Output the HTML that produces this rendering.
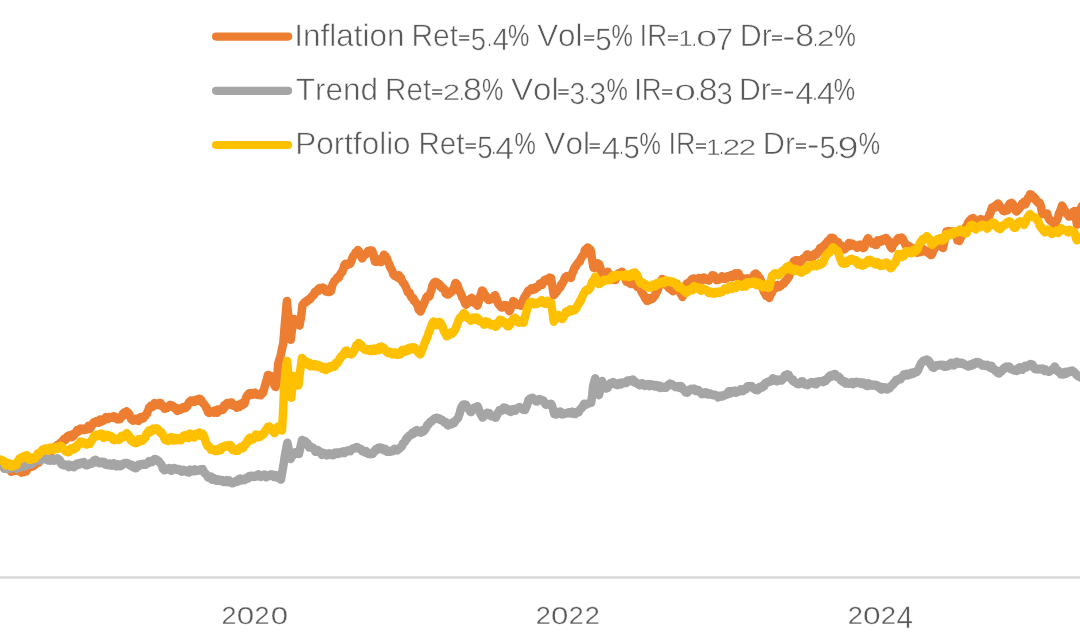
<!DOCTYPE html>
<html lang="en"><head><meta charset="utf-8"><title>Chart</title>
<style>
html,body{margin:0;padding:0;background:#fff;}
body{width:1080px;height:635px;overflow:hidden;position:relative;font-family:"Liberation Sans",sans-serif;}
svg{position:absolute;left:0;top:0;display:block;}
text{font-family:"Liberation Sans",sans-serif;fill:#595959;stroke:#fff;stroke-width:0.6px;font-kerning:none;text-rendering:geometricPrecision;font-variant-ligatures:none;white-space:pre;}
</style></head><body>
<svg width="1080" height="635" viewBox="0 0 1080 635">
<rect width="1080" height="635" fill="#fff"/>
<line x1="0" y1="577.5" x2="1080" y2="577.5" stroke="#d8d8d8" stroke-width="2.6"/>
<polyline points="-2.0,464.0 -1.4,463.5 -0.8,463.5 0.0,464.0 0.4,465.0 1.0,463.4 1.6,466.1 2.2,465.4 2.8,466.3 3.4,466.3 4.0,468.4 4.6,465.9 5.2,466.3 6.0,467.2 6.4,468.8 7.0,467.4 7.6,467.8 8.2,467.5 8.8,468.3 9.4,469.6 10.0,468.5 10.6,470.6 11.2,471.7 11.8,471.6 12.4,471.4 13.0,471.0 13.6,471.0 14.2,470.1 14.8,469.8 15.4,470.8 16.0,469.8 16.6,469.6 17.2,469.2 18.0,469.5 18.4,468.8 19.0,469.3 19.6,468.8 20.2,469.7 20.8,472.1 21.4,472.5 22.0,471.8 22.7,470.6 23.2,469.7 23.8,472.1 24.4,471.6 25.0,470.4 25.6,470.6 26.0,471.5 26.8,470.2 27.4,469.0 28.0,467.2 28.6,466.8 29.2,465.3 29.8,465.1 30.4,465.0 31.0,465.9 31.6,466.7 32.0,466.5 32.8,466.3 33.4,466.1 34.0,464.3 34.6,465.1 35.2,464.6 35.8,463.3 36.4,463.2 37.0,462.3 37.6,462.7 38.0,462.2 38.8,462.4 39.4,460.6 40.0,458.0 40.6,457.3 41.2,457.2 41.8,457.9 42.4,457.4 43.0,454.4 43.6,454.1 44.0,455.0 44.8,454.7 45.4,455.0 46.0,453.9 46.6,453.1 47.2,452.8 47.8,452.8 48.4,452.3 49.0,451.8 49.6,450.3 50.0,450.6 50.8,450.2 51.4,450.9 52.0,451.0 52.6,450.2 53.2,449.0 53.8,447.5 54.4,447.8 55.0,447.4 55.6,446.5 56.2,446.2 56.7,445.5 57.4,445.8 58.0,444.6 58.6,445.7 59.2,445.2 59.8,444.9 60.4,442.7 61.0,442.6 61.6,443.0 62.0,441.4 62.8,440.6 63.4,440.4 64.0,438.8 64.6,439.2 65.2,440.1 65.8,438.5 66.4,438.8 67.0,436.9 67.6,437.0 68.2,435.6 68.8,436.9 69.4,437.1 70.0,436.4 70.6,435.1 71.2,436.5 71.8,437.2 72.4,434.3 73.0,435.5 73.6,435.9 74.2,435.2 74.8,433.0 75.4,433.6 76.0,432.5 76.6,431.4 77.2,430.0 77.8,430.7 78.4,431.5 79.0,430.1 79.6,430.5 80.2,428.6 81.0,429.4 81.4,429.4 82.0,428.9 82.6,428.7 83.2,429.8 83.8,430.1 84.4,430.1 85.0,429.2 85.6,429.2 86.2,429.5 86.8,429.2 87.4,429.4 88.0,428.4 88.6,425.7 89.0,427.4 89.8,428.8 90.4,428.2 91.0,427.0 91.6,426.0 92.2,425.1 92.8,424.6 93.4,422.7 94.0,422.1 94.5,422.0 95.2,421.7 95.8,421.3 96.4,422.0 97.0,421.4 97.6,422.4 98.2,421.9 98.8,422.8 99.4,420.0 100.0,419.4 100.6,420.3 101.2,421.8 101.8,421.0 102.4,420.4 103.0,419.5 103.6,420.5 104.2,419.5 104.8,419.7 105.4,418.7 106.0,417.2 106.6,417.4 107.2,418.1 107.8,419.1 108.4,418.4 109.0,417.0 109.6,417.7 110.2,417.6 110.8,417.5 111.4,416.9 112.0,417.7 112.6,416.9 113.4,416.2 113.8,416.7 114.4,417.8 115.0,416.5 115.6,417.6 116.2,418.1 117.0,418.4 117.4,419.4 118.0,418.5 118.6,419.2 119.2,418.1 119.8,419.3 120.4,417.9 121.0,417.9 121.6,416.5 122.2,415.0 122.8,413.7 123.4,415.6 124.0,414.4 124.6,412.3 125.2,413.5 125.8,412.2 126.6,411.5 127.0,411.9 127.6,412.9 128.2,412.8 128.8,414.7 129.5,414.5 130.0,416.6 130.6,417.6 131.2,419.1 132.0,419.8 132.4,418.9 133.0,420.8 133.6,420.1 134.2,419.6 134.8,418.7 135.4,418.7 136.0,419.3 136.6,419.6 137.2,420.4 138.0,420.8 138.4,421.0 139.0,418.8 139.6,417.7 140.2,417.6 140.8,417.1 141.4,418.2 142.0,418.0 142.6,418.1 143.2,418.4 143.6,418.1 144.4,416.0 145.0,416.0 145.6,415.8 146.2,414.2 147.0,413.7 147.4,412.0 148.0,410.8 148.6,409.7 149.2,407.4 149.8,408.1 150.4,407.4 151.0,405.5 151.6,407.2 152.2,407.0 152.8,406.7 153.4,405.3 154.0,405.1 154.6,403.1 155.2,404.3 156.0,403.7 156.4,403.8 157.0,405.1 157.6,404.8 158.2,404.6 158.8,404.4 159.4,403.0 160.0,403.5 160.7,403.1 161.2,404.3 161.8,406.0 162.4,406.1 163.0,405.8 163.6,406.4 164.2,408.3 164.5,408.7 164.8,408.8 165.4,408.1 166.0,407.2 166.6,407.1 167.2,407.9 167.8,407.2 168.4,406.8 169.0,406.0 169.6,405.4 170.0,404.9 170.8,405.2 171.4,405.3 172.0,405.7 172.6,406.9 173.2,406.3 173.8,406.8 174.4,407.0 175.0,408.1 175.6,409.2 176.2,407.9 176.8,409.1 177.4,411.0 178.0,409.0 178.6,408.7 179.2,409.2 179.6,409.6 180.4,409.8 181.0,409.5 181.6,408.0 182.2,408.6 182.8,407.3 183.4,408.4 184.0,407.6 184.6,408.3 185.2,406.7 185.8,407.8 186.4,407.2 187.0,406.6 187.6,405.6 188.2,403.9 189.0,402.5 189.4,402.0 190.0,401.1 190.6,401.5 191.2,400.4 191.8,401.2 192.4,402.0 193.0,400.4 193.6,401.6 194.2,400.7 194.8,401.6 195.4,401.3 196.0,400.8 196.6,399.5 197.0,399.3 197.8,400.7 198.4,400.6 199.0,398.8 199.6,398.8 200.2,399.1 201.0,400.6 201.4,400.2 202.0,401.9 202.6,402.3 203.2,403.5 203.8,404.0 204.6,404.9 205.0,405.4 205.6,406.4 206.2,408.1 206.8,407.8 207.4,410.3 208.0,412.1 208.4,412.0 209.2,413.0 209.8,411.9 210.4,411.4 211.0,412.0 211.6,412.0 212.0,412.0 212.8,411.2 213.4,411.1 214.0,412.7 214.6,410.6 215.2,411.5 216.0,412.0 216.4,412.6 217.0,412.7 217.6,409.4 218.2,410.1 218.8,410.5 219.4,410.2 220.0,409.6 220.6,410.1 221.2,408.9 221.8,410.2 222.4,409.6 223.0,409.6 223.5,407.8 224.2,405.3 224.8,406.2 225.4,406.7 226.0,405.9 226.6,403.4 227.2,402.9 227.8,403.8 228.4,403.3 229.0,403.0 229.6,403.2 230.2,402.7 230.8,402.6 231.4,402.4 232.0,405.3 232.6,404.9 233.2,405.7 234.0,405.9 234.4,406.0 235.0,404.8 235.6,405.6 236.2,405.6 236.8,407.7 237.4,405.5 238.0,405.5 238.6,406.0 239.2,407.0 239.8,405.9 240.4,405.7 241.0,403.4 241.6,403.3 242.4,404.5 242.8,405.0 243.4,403.6 244.0,404.1 244.6,403.3 245.0,401.8 245.8,398.5 246.4,396.8 247.0,395.7 247.6,395.9 248.0,395.6 248.8,393.4 249.4,393.3 250.0,395.3 250.6,394.3 251.2,393.0 252.0,394.5 252.4,394.7 253.0,393.5 253.6,393.7 254.2,393.4 254.8,392.6 255.6,393.5 256.0,394.6 256.6,394.7 257.2,394.1 257.8,394.7 258.4,394.2 259.0,394.3 259.6,394.8 260.0,394.2 260.8,395.1 261.4,394.7 262.0,392.5 262.6,391.7 263.0,393.0 263.8,389.9 264.4,388.0 265.0,385.4 265.5,384.0 266.2,381.4 266.8,379.8 267.4,377.1 268.0,374.9 268.6,375.6 269.2,375.7 269.8,377.0 270.4,376.2 270.7,376.0 271.0,377.4 271.6,378.2 272.2,379.4 273.0,381.6 273.4,381.8 274.0,384.1 274.6,385.5 275.2,386.5 275.5,387.0 275.8,385.8 276.4,383.6 277.0,381.0 277.6,372.8 278.3,363.0 278.8,361.5 279.4,359.5 280.0,358.0 280.5,356.0 281.2,352.9 281.8,349.9 282.4,347.2 283.0,344.6 283.3,343.4 283.6,339.6 284.2,332.0 285.0,322.0 285.4,317.6 286.0,311.1 286.6,304.5 286.9,301.1 287.2,304.4 287.8,310.7 288.5,318.0 289.0,323.0 289.6,328.9 290.2,334.7 290.7,339.7 291.4,334.2 292.0,329.9 292.3,328.0 292.6,326.0 293.2,322.7 293.9,319.0 294.4,319.3 295.0,319.8 295.6,320.0 296.0,321.2 296.8,321.9 297.4,323.0 298.0,323.5 298.6,324.5 299.2,325.1 299.5,325.5 299.8,323.8 300.4,320.4 301.0,316.9 301.3,315.0 301.6,312.5 302.2,307.4 302.5,305.0 302.8,304.5 303.4,303.8 304.0,303.4 304.6,303.3 305.0,302.0 305.8,301.4 306.4,301.9 307.0,301.4 307.5,300.1 308.2,300.5 308.8,299.2 309.4,299.0 310.0,299.1 310.6,298.9 311.0,297.2 311.8,296.4 312.4,296.2 313.0,295.2 313.6,294.2 314.2,294.8 314.5,294.0 314.8,292.0 315.4,292.5 316.0,291.9 316.6,291.1 317.2,290.1 318.0,291.2 318.4,289.1 319.0,288.4 319.6,288.1 320.2,289.5 320.8,289.6 321.3,288.7 322.0,288.7 322.6,287.6 323.2,289.1 324.0,288.6 324.4,288.6 325.0,290.7 325.6,291.0 326.0,291.5 326.8,291.3 327.4,291.5 328.0,292.1 328.6,291.4 329.2,292.0 329.8,291.8 330.4,290.1 330.7,291.3 331.0,290.8 331.6,288.7 332.2,285.8 332.5,285.0 332.8,283.9 333.4,283.0 334.0,281.7 334.5,280.8 335.2,280.5 335.8,280.0 336.4,279.3 337.0,277.9 337.6,277.3 338.2,277.9 338.8,277.6 339.4,276.2 340.0,274.9 340.6,273.5 341.2,273.5 341.8,272.0 342.4,271.6 343.0,269.2 343.6,268.4 344.2,265.5 344.8,264.5 345.4,263.7 346.0,263.7 346.6,265.1 347.2,264.4 347.8,264.9 348.4,264.5 349.0,264.4 349.6,263.3 350.2,263.8 350.6,262.1 351.4,261.2 352.0,258.9 352.6,257.6 353.2,256.0 354.0,255.2 354.4,254.7 355.0,254.0 355.6,252.2 356.2,253.2 356.8,252.3 357.4,251.4 358.0,250.1 358.6,251.3 359.2,251.4 360.0,253.3 360.4,254.9 361.0,255.6 361.6,257.6 362.0,258.4 362.8,257.3 363.4,254.9 364.0,255.5 364.6,254.6 365.0,254.5 365.8,254.1 366.4,254.0 367.0,252.9 367.6,252.4 368.2,250.9 368.5,250.7 368.8,250.8 369.4,250.7 370.0,250.5 370.6,250.5 371.2,251.2 371.8,250.6 372.3,251.1 373.0,253.0 373.6,255.2 374.2,258.4 375.0,261.6 375.4,260.8 376.0,261.8 376.6,260.6 377.2,261.8 378.0,260.4 378.4,259.4 379.0,259.5 379.6,259.8 380.2,261.8 381.0,261.7 381.4,262.0 382.0,260.9 382.6,258.9 383.2,256.7 384.0,254.7 384.4,255.6 385.0,256.7 385.6,256.4 386.2,257.8 386.5,258.1 386.8,258.3 387.4,259.6 388.0,261.6 388.6,262.8 389.3,264.6 389.8,266.7 390.4,267.1 391.0,268.8 391.5,269.3 392.2,270.7 392.8,272.6 393.4,274.7 394.0,275.1 394.6,275.7 395.2,276.2 395.8,276.3 396.4,276.6 397.0,277.0 397.6,277.5 398.2,276.0 398.8,275.2 399.4,278.3 400.0,278.9 400.7,277.3 401.2,278.7 401.8,280.3 402.4,281.7 403.0,282.7 403.5,282.9 404.2,284.1 404.8,284.9 405.4,286.4 406.0,287.4 406.4,288.4 407.2,290.6 407.8,292.2 408.4,291.9 409.0,292.7 409.6,292.8 410.2,295.1 410.8,295.7 411.4,297.5 412.0,297.3 412.6,298.4 413.2,298.1 413.8,300.7 414.4,301.2 415.0,301.1 415.6,302.1 416.0,303.0 416.8,303.8 417.4,305.2 418.0,306.8 418.6,309.5 419.2,309.6 419.8,310.7 420.5,311.4 421.0,310.4 421.6,307.9 422.2,307.6 422.8,306.0 423.4,305.0 424.0,303.5 424.6,301.9 425.2,300.6 425.8,299.1 426.4,297.4 427.0,296.5 427.6,296.9 428.2,296.6 428.8,296.7 429.4,296.1 430.0,294.8 430.6,292.1 431.2,290.9 431.8,288.4 432.4,285.6 433.0,284.4 433.8,282.9 434.2,283.1 434.8,282.3 435.4,281.9 436.0,282.4 436.6,282.3 437.0,283.7 437.8,283.9 438.4,284.6 439.0,283.7 439.6,285.9 440.4,285.3 440.8,287.0 441.4,287.0 442.0,288.1 442.6,287.9 443.2,287.9 444.0,289.3 444.4,289.7 445.0,290.7 445.6,293.3 446.2,292.9 447.0,294.2 447.4,294.4 448.0,294.6 448.6,292.4 449.2,293.1 449.8,293.3 450.4,291.3 451.0,291.3 451.7,291.8 452.2,291.2 452.8,290.7 453.4,289.0 454.0,288.2 454.6,285.8 455.2,283.6 455.5,282.9 455.8,283.4 456.4,283.4 457.0,284.8 457.6,285.3 458.0,286.5 458.8,289.0 459.4,291.4 460.0,291.9 460.6,292.8 461.2,294.4 461.8,295.6 462.4,297.8 463.0,298.3 463.6,299.4 464.2,301.2 464.8,302.4 465.4,304.0 466.0,304.6 466.6,304.3 467.2,303.0 467.8,303.2 468.4,301.8 469.0,301.5 469.6,301.6 470.2,298.9 470.8,298.6 471.6,298.0 472.0,298.4 472.6,298.6 473.2,301.5 473.8,302.0 474.5,303.0 475.0,303.4 475.6,302.8 476.2,304.0 476.8,304.7 477.3,305.7 478.0,303.6 478.6,301.9 479.2,299.6 479.5,298.0 479.8,297.2 480.4,295.6 481.0,294.0 481.6,291.8 482.0,290.5 482.8,291.1 483.4,291.8 484.0,293.5 484.6,294.9 485.0,295.2 485.8,295.7 486.4,296.8 487.0,298.4 487.6,298.8 488.2,299.5 488.6,300.0 489.4,300.0 490.0,299.1 490.6,298.9 491.2,298.8 492.0,298.2 492.4,299.1 493.0,298.5 493.6,298.0 494.2,295.7 494.8,295.6 495.2,295.3 496.0,297.6 496.6,298.6 497.0,300.0 497.8,302.4 498.4,304.1 499.0,304.8 499.6,304.9 500.2,306.1 500.8,306.5 501.4,307.5 502.0,306.7 502.6,307.4 503.2,307.3 503.8,306.5 504.4,305.0 505.0,305.4 505.6,305.9 506.2,305.3 506.8,306.1 507.4,307.0 508.0,308.7 508.6,309.8 509.4,311.3 509.8,310.3 510.4,309.4 511.0,305.9 511.6,306.5 512.2,304.8 512.8,302.4 513.2,301.1 514.0,302.3 514.6,302.1 515.2,302.7 515.8,303.8 516.4,304.2 517.0,304.5 517.6,305.1 518.2,305.1 518.8,304.2 519.4,304.3 520.0,304.8 520.7,305.7 521.2,304.9 521.8,303.1 522.4,302.4 523.0,300.9 523.5,299.1 524.2,297.8 524.8,296.4 525.4,296.1 526.0,294.7 526.4,294.3 527.2,293.0 527.8,291.4 528.4,290.6 529.0,290.2 529.6,290.2 530.0,290.0 530.8,289.6 531.4,288.2 532.0,290.1 532.6,288.7 533.2,289.8 533.8,288.7 534.4,289.1 535.0,289.1 535.6,287.2 536.0,287.1 536.8,287.6 537.4,287.5 538.0,286.5 538.6,286.3 539.2,285.2 539.8,283.5 540.4,284.9 541.0,283.8 541.5,284.8 542.2,284.8 542.8,282.7 543.4,282.0 544.0,281.2 544.6,279.9 545.2,280.4 545.8,279.4 546.4,281.0 547.0,280.0 547.6,279.0 548.2,278.8 548.8,278.4 549.4,277.6 550.0,278.2 550.6,278.2 551.0,278.0 551.8,282.9 552.5,287.0 553.0,290.2 553.8,295.2 554.2,294.8 554.8,294.3 555.4,292.9 556.0,291.9 556.6,291.8 557.0,291.8 557.8,289.7 558.4,288.9 559.0,288.5 559.6,288.1 560.4,287.3 560.8,285.7 561.4,284.1 562.0,284.1 562.6,283.0 563.2,281.9 563.8,280.9 564.4,279.0 565.0,277.4 565.6,277.6 566.2,276.7 566.8,276.0 567.4,276.6 568.0,276.8 568.6,276.7 569.2,277.4 569.8,277.3 570.4,277.8 570.8,278.0 571.6,275.4 572.2,273.0 573.0,271.8 573.4,271.3 574.0,268.7 574.6,267.6 575.2,266.9 575.5,266.6 575.8,266.7 576.4,264.9 577.0,264.5 577.6,263.7 578.2,262.7 578.8,261.8 579.4,261.2 580.0,261.2 580.3,260.0 580.6,259.1 581.2,258.2 581.8,257.0 582.4,256.2 583.0,255.2 583.6,255.1 584.2,253.7 584.8,250.2 585.4,249.5 586.0,249.4 586.6,249.1 587.2,249.1 587.8,247.4 588.5,248.8 589.0,248.8 589.6,249.0 590.2,249.6 590.7,250.5 591.4,254.9 592.0,259.0 592.6,262.7 593.2,266.1 593.5,267.8 593.8,267.5 594.4,267.2 595.0,267.8 595.6,267.1 596.0,266.7 596.8,264.5 597.4,263.2 598.0,263.5 598.6,263.9 599.0,263.9 599.8,266.2 600.4,267.9 601.0,270.8 601.6,273.3 602.0,274.5 602.8,274.9 603.4,274.6 604.0,273.5 604.6,273.7 605.0,272.9 605.8,273.9 606.4,272.3 607.0,272.6 607.7,271.7 608.2,273.1 608.8,274.4 609.4,275.1 610.0,275.8 610.5,275.2 611.2,276.4 611.8,278.0 612.4,278.8 613.0,279.1 613.4,279.8 614.2,278.7 614.8,279.3 615.4,279.9 616.0,277.9 616.6,275.9 617.2,275.4 618.0,274.4 618.4,273.3 619.0,274.0 619.6,275.3 620.2,274.5 620.8,274.2 621.4,272.8 622.0,271.7 622.6,273.1 623.2,274.6 623.8,275.6 624.5,277.0 625.0,277.7 625.6,279.5 626.2,281.0 626.6,281.9 627.4,281.3 628.0,280.4 628.6,279.5 629.2,280.1 630.0,282.0 630.4,283.9 631.0,284.0 631.6,283.1 632.2,283.8 632.8,284.0 633.2,281.6 634.0,283.2 634.6,284.2 635.2,284.4 635.8,284.8 636.5,284.9 637.0,286.7 637.6,286.5 638.2,286.5 638.8,287.0 639.4,287.8 639.8,287.1 640.6,289.7 641.2,290.9 642.0,292.4 642.4,293.4 643.0,294.2 643.6,294.9 644.2,296.2 644.6,297.1 645.4,298.8 646.0,299.3 646.6,299.2 647.2,301.1 647.5,299.4 647.8,298.0 648.4,298.9 649.0,299.1 649.6,298.9 650.2,299.7 650.8,298.6 651.4,298.9 652.0,297.6 652.6,298.6 653.0,298.1 653.8,296.9 654.4,296.1 655.0,295.7 655.6,293.2 656.0,293.6 656.8,291.2 657.4,291.1 658.0,288.7 658.6,287.8 659.0,285.4 659.8,283.9 660.4,282.8 661.0,281.2 661.6,279.9 662.0,279.0 662.8,280.1 663.4,280.7 664.0,279.8 664.5,281.3 665.2,284.2 665.8,284.6 666.4,285.3 667.0,285.3 667.3,285.8 667.6,286.3 668.2,286.5 668.8,288.1 669.4,287.4 670.0,288.2 670.6,289.4 671.2,289.5 671.8,289.1 672.4,290.6 673.0,291.2 673.6,289.6 674.2,287.6 674.8,286.3 675.4,285.3 676.0,284.6 676.7,283.7 677.2,285.4 677.8,286.7 678.4,288.4 679.0,289.1 679.5,290.1 680.2,292.6 680.8,293.9 681.4,294.4 682.0,295.8 682.4,296.9 683.2,294.3 683.8,293.2 684.4,290.5 684.8,289.9 685.6,286.8 686.2,284.8 687.0,283.5 687.4,283.2 688.0,284.3 688.6,282.5 689.2,283.4 689.8,282.2 690.4,281.4 691.0,280.3 691.6,279.6 692.2,278.9 693.0,279.6 693.4,278.4 694.0,278.4 694.6,278.7 695.2,279.7 695.8,279.6 696.4,279.7 697.0,279.9 697.6,279.3 698.2,279.1 698.8,278.0 699.4,277.9 700.0,278.7 700.6,279.0 701.2,278.2 701.8,280.1 702.4,279.6 703.0,278.8 703.6,277.4 704.2,279.0 704.8,278.0 705.4,278.1 706.0,279.6 706.6,279.9 707.0,280.0 707.8,279.1 708.4,279.8 709.0,280.4 709.6,279.0 710.2,278.6 710.8,278.5 711.4,277.1 712.2,275.3 712.6,275.7 713.2,276.0 713.8,275.6 714.4,276.2 715.0,277.7 715.6,278.5 716.4,280.0 716.8,279.8 717.4,279.1 718.0,279.7 718.6,279.2 719.0,278.5 719.8,279.1 720.4,278.8 721.0,277.4 721.6,276.8 722.0,276.3 722.8,277.5 723.4,278.4 724.0,278.7 724.6,278.8 725.2,278.6 725.8,278.8 726.4,278.4 727.0,277.0 727.6,276.2 728.2,277.1 728.8,276.1 729.6,276.9 730.0,276.4 730.6,276.4 731.2,275.1 731.8,277.3 732.4,277.1 733.0,274.7 733.6,276.4 734.2,275.3 734.8,273.7 735.4,273.2 735.9,273.3 736.6,274.5 737.2,274.5 737.8,273.5 738.4,273.2 739.0,275.9 739.6,277.6 740.0,276.6 740.8,277.7 741.4,277.7 742.0,277.7 742.6,279.0 743.2,279.3 743.8,279.6 744.4,279.2 744.8,279.7 745.6,279.6 746.2,279.6 746.8,279.8 747.4,278.3 748.0,278.5 748.6,278.7 749.2,279.4 749.8,279.4 750.4,279.9 751.0,279.3 751.6,279.3 752.2,279.1 752.8,278.4 753.4,276.5 754.2,274.4 754.6,274.9 755.2,274.1 755.8,273.5 756.4,275.2 757.0,275.9 757.6,275.0 758.2,276.6 758.8,278.0 759.4,278.5 760.0,278.3 760.6,279.9 761.2,282.1 762.0,285.0 762.4,286.4 763.0,289.0 763.7,291.3 764.2,292.4 764.8,291.8 765.4,293.6 766.0,295.7 766.5,295.4 767.2,294.7 767.8,296.3 768.4,296.7 769.0,297.3 769.3,297.9 769.6,297.0 770.2,295.9 770.8,293.7 771.5,293.3 772.0,292.6 772.6,290.9 773.2,289.6 774.0,287.9 774.4,288.5 775.0,288.4 775.6,288.1 776.2,287.0 776.8,287.2 777.4,284.9 778.0,285.9 778.6,286.7 779.2,287.0 779.8,285.7 780.4,285.3 781.0,285.7 781.6,285.3 782.2,284.2 782.6,284.0 783.4,283.2 784.0,283.4 784.6,281.7 785.2,281.3 786.0,280.4 786.4,280.6 787.0,279.4 787.6,278.5 788.2,277.6 788.8,276.8 789.2,276.2 790.0,273.2 790.6,272.2 791.2,269.5 791.5,268.0 791.8,266.6 792.4,264.7 793.0,263.4 793.6,262.3 794.0,261.1 794.8,262.0 795.4,260.2 796.0,261.0 796.6,260.2 797.0,261.0 797.8,260.3 798.4,261.7 799.0,262.3 799.6,263.0 800.2,262.4 800.8,261.3 801.4,260.5 802.0,260.5 802.6,258.9 803.0,258.6 803.8,258.0 804.4,257.5 805.0,257.6 805.6,257.4 806.2,256.1 807.0,254.5 807.4,255.1 808.0,254.6 808.6,257.0 809.2,255.2 810.0,256.9 810.4,256.3 811.0,257.3 811.6,257.1 812.2,257.3 812.8,257.2 813.4,255.9 814.0,255.1 814.6,254.0 815.2,253.3 816.0,253.1 816.4,254.7 817.0,253.1 817.6,252.9 818.2,251.0 819.0,251.9 819.4,250.8 820.0,248.1 820.6,250.2 821.2,247.8 821.8,248.5 822.5,247.3 823.0,247.3 823.6,245.9 824.2,245.2 824.8,245.3 825.4,243.9 826.0,243.2 826.5,242.6 827.2,242.4 827.8,241.1 828.4,242.1 829.0,241.6 829.6,240.6 830.0,239.2 830.8,237.7 831.4,239.0 832.0,239.3 832.6,237.8 833.0,237.9 833.8,238.7 834.4,241.0 835.0,242.0 835.6,242.4 836.2,242.8 836.5,241.9 836.8,242.9 837.4,241.9 838.0,242.0 838.6,243.3 839.2,245.8 839.7,245.7 840.4,246.9 841.0,246.9 841.6,245.6 842.2,247.3 842.8,247.4 843.4,248.4 844.0,248.7 844.4,249.4 845.2,247.3 845.8,246.7 846.4,247.7 847.0,247.3 847.6,246.8 848.2,245.0 849.0,242.9 849.4,243.4 850.0,243.2 850.6,245.3 851.2,245.6 851.8,245.1 852.4,243.6 853.0,244.4 853.6,245.6 854.2,245.6 854.8,245.7 855.4,245.4 856.0,245.5 856.7,246.6 857.2,247.8 857.8,245.8 858.4,246.1 859.0,245.0 859.6,244.7 860.2,245.8 860.8,245.6 861.4,245.1 862.0,245.7 862.6,247.2 863.2,248.0 863.8,247.6 864.3,247.5 865.0,244.9 865.6,242.6 866.0,242.0 866.8,240.4 867.4,239.6 868.0,238.1 868.6,239.0 869.2,240.6 869.8,241.6 870.4,242.4 871.0,242.1 871.5,242.1 872.2,242.4 872.8,243.8 873.4,243.7 874.0,244.0 874.7,244.6 875.2,244.1 875.8,244.5 876.4,245.0 877.0,240.9 877.6,240.2 878.2,242.2 878.8,241.4 879.4,240.9 880.0,241.9 880.6,241.4 881.2,240.0 881.8,239.6 882.4,241.3 883.0,239.0 883.6,240.3 884.2,239.3 884.8,238.5 885.4,238.9 886.0,238.0 886.6,239.4 887.2,240.3 887.8,239.9 888.4,241.2 889.0,243.3 889.6,244.4 890.2,246.1 890.8,247.0 891.4,247.9 891.7,248.4 892.0,247.9 892.6,245.9 893.2,244.4 893.8,243.1 894.4,242.7 895.0,242.7 895.6,241.0 896.2,241.3 896.8,240.7 897.4,239.7 898.0,238.5 898.3,238.0 898.6,238.4 899.2,238.6 899.8,238.0 900.4,240.0 901.0,237.7 901.6,237.5 902.0,238.6 902.8,238.8 903.4,239.9 904.0,241.5 904.6,242.3 905.0,243.7 905.8,245.5 906.4,246.2 907.0,245.4 907.6,246.2 908.2,245.6 908.8,245.8 909.6,246.6 910.0,246.8 910.6,248.3 911.2,248.8 911.8,248.0 912.4,247.7 913.0,249.0 913.6,250.2 914.0,251.0 914.8,250.5 915.4,250.2 916.0,250.1 916.6,251.7 917.2,252.7 917.8,252.5 918.4,251.6 919.0,251.7 919.6,252.2 920.2,251.2 920.8,252.0 921.4,251.7 922.0,249.4 922.6,250.6 923.2,250.9 923.8,249.3 924.4,249.7 924.8,250.2 925.6,250.7 926.2,251.8 926.8,250.7 927.4,251.3 928.0,253.0 928.6,251.8 929.2,252.7 929.8,253.7 930.4,254.9 931.0,254.3 931.4,254.9 932.2,253.8 932.8,251.9 933.4,250.2 934.0,249.4 934.6,247.8 935.2,247.4 936.0,245.7 936.4,245.5 937.0,245.5 937.6,244.3 938.2,246.0 938.8,244.5 939.4,244.1 940.0,245.1 940.6,244.8 941.2,246.8 941.8,247.3 942.4,247.7 943.0,248.0 943.6,245.0 944.2,241.9 944.8,239.0 945.4,236.3 946.0,233.8 946.5,231.4 947.2,231.8 947.8,231.7 948.4,231.1 949.0,232.4 949.6,231.6 950.0,232.3 950.8,231.6 951.4,231.4 952.0,231.5 952.6,231.9 953.0,233.2 953.8,233.6 954.4,234.6 955.0,234.9 955.6,235.4 956.0,236.5 956.8,237.1 957.4,240.3 958.0,240.2 958.6,239.7 959.3,241.0 959.8,239.6 960.4,238.7 961.0,237.0 961.6,235.9 962.0,236.0 962.8,234.4 963.4,232.5 964.0,231.4 964.6,230.0 965.0,228.8 965.8,226.7 966.4,226.3 967.0,226.0 967.6,223.7 968.0,222.6 968.8,223.2 969.4,220.5 970.0,220.9 970.6,220.3 971.2,218.9 971.5,218.7 971.8,218.7 972.4,218.4 973.0,217.9 973.6,219.6 974.0,220.1 974.8,221.9 975.4,221.0 976.0,222.2 976.6,222.8 977.0,222.7 977.8,221.8 978.4,221.1 979.0,222.5 979.5,222.0 980.2,221.4 980.8,219.0 981.4,220.1 981.7,221.2 982.0,222.5 982.6,222.5 983.2,222.0 983.8,220.8 984.5,220.7 985.0,219.4 985.6,222.3 986.2,221.9 987.0,221.9 987.4,220.9 988.0,218.4 988.6,217.8 989.2,215.1 989.5,214.2 989.8,214.2 990.4,213.2 991.0,210.2 991.6,208.9 992.0,207.6 992.8,207.3 993.4,208.5 994.0,207.1 994.6,207.7 995.0,205.8 995.8,207.1 996.4,205.5 997.0,204.3 997.6,204.0 998.0,203.6 998.8,205.3 999.4,205.1 1000.0,206.8 1000.5,206.6 1001.2,207.6 1001.8,208.7 1002.4,209.7 1003.0,210.8 1003.6,210.1 1004.2,211.1 1004.8,210.9 1005.5,208.5 1006.0,210.1 1006.6,210.0 1007.2,210.5 1007.7,209.1 1008.4,205.9 1009.0,205.1 1009.6,203.8 1010.2,203.6 1010.8,203.3 1011.6,202.8 1012.0,203.1 1012.6,203.9 1013.2,204.7 1014.0,207.1 1014.4,206.6 1015.0,207.8 1015.6,210.6 1016.4,211.5 1016.8,211.0 1017.4,210.9 1018.0,209.9 1018.6,209.3 1019.0,208.1 1019.8,208.1 1020.4,206.9 1021.0,205.7 1021.6,205.5 1022.0,203.7 1022.8,203.8 1023.4,203.0 1024.0,201.8 1024.6,202.5 1025.2,204.5 1025.8,203.8 1026.4,202.4 1027.0,200.4 1027.6,198.5 1028.0,198.0 1028.8,197.1 1029.4,196.1 1030.0,194.3 1030.6,195.0 1031.2,194.4 1031.8,196.5 1032.3,196.7 1033.0,196.9 1033.6,196.7 1034.2,197.2 1034.5,199.2 1034.8,199.4 1035.4,198.5 1036.0,200.4 1036.6,201.3 1037.0,201.1 1037.8,202.4 1038.4,201.9 1039.0,203.4 1039.6,202.8 1040.0,203.6 1040.8,206.2 1041.4,209.2 1042.0,212.2 1042.4,214.1 1043.2,213.7 1043.8,213.9 1044.4,213.9 1045.0,214.0 1045.6,214.8 1046.2,214.0 1047.0,213.4 1047.4,214.4 1048.0,216.6 1048.6,218.2 1049.2,219.6 1050.0,220.1 1050.4,220.5 1051.0,221.3 1051.6,221.7 1052.2,221.1 1053.0,222.5 1053.4,223.1 1054.0,223.7 1054.6,223.4 1055.2,223.2 1055.7,223.1 1056.4,221.3 1057.0,220.0 1057.6,218.7 1058.2,216.8 1059.0,213.1 1059.4,213.3 1060.0,211.3 1060.6,210.3 1061.2,208.3 1062.0,205.6 1062.4,206.2 1063.0,207.8 1063.6,207.9 1064.2,210.7 1064.8,211.8 1065.4,211.3 1066.0,212.6 1066.6,213.8 1067.2,213.8 1067.8,214.5 1068.4,215.5 1069.0,216.6 1069.6,215.5 1070.2,215.2 1070.8,216.2 1071.4,216.0 1072.0,214.0 1072.6,213.3 1073.2,211.9 1073.8,212.0 1074.6,210.9 1075.0,213.0 1075.6,215.9 1076.2,219.6 1077.0,224.5 1077.4,222.0 1078.0,218.2 1078.6,214.5 1079.0,212.0 1079.8,210.1 1080.4,209.2 1081.0,208.2 1081.6,207.6 1082.0,206.0" fill="none" stroke="#ED7D31" stroke-width="8.5" stroke-linecap="round" stroke-linejoin="round"/>
<polyline points="-2.0,464.5 -1.4,464.6 -0.8,463.3 0.0,465.2 0.4,463.9 1.0,464.1 1.6,465.2 2.2,464.8 2.8,464.9 3.4,465.2 4.0,466.3 4.6,468.7 5.2,468.6 5.8,467.6 6.4,468.4 7.0,468.4 7.5,468.8 8.2,469.1 8.8,468.6 9.4,468.6 10.0,467.8 10.6,467.9 11.2,468.3 11.8,467.5 12.4,467.5 13.0,467.6 13.6,467.3 14.0,467.4 14.8,466.4 15.4,466.5 16.0,466.6 16.6,468.7 17.2,466.1 17.8,466.4 18.4,466.9 19.0,467.9 19.6,467.8 20.2,466.5 21.0,466.3 21.4,466.7 22.0,466.0 22.6,466.6 23.2,464.5 23.8,466.3 24.4,466.8 25.0,466.0 25.6,466.0 26.2,465.5 26.8,464.3 27.4,464.3 28.0,464.8 28.6,464.3 29.2,463.6 29.8,463.4 30.4,463.7 31.0,464.4 31.6,463.2 32.2,463.3 32.8,463.1 33.4,461.1 34.0,460.9 34.6,461.0 35.2,461.0 36.0,461.3 36.4,459.7 37.0,459.9 37.6,459.6 38.2,459.1 38.8,459.6 39.4,460.4 40.0,459.5 40.6,460.4 41.2,459.6 41.8,459.5 42.4,458.7 43.0,459.4 43.5,458.9 44.2,458.5 44.8,459.0 45.4,457.6 46.0,457.9 46.6,458.3 47.2,459.4 47.8,460.4 48.4,459.8 49.0,458.4 49.6,460.0 50.2,460.7 51.0,459.8 51.4,460.1 52.0,460.2 52.6,460.3 53.2,460.1 53.8,460.7 54.4,458.8 55.0,459.9 55.6,459.9 56.2,459.4 56.8,460.2 57.4,458.2 58.0,459.1 58.6,459.0 59.2,459.5 59.8,460.4 60.4,460.9 61.0,463.4 61.6,464.2 62.2,464.8 62.8,464.8 63.4,464.7 64.0,465.3 64.6,464.9 65.2,464.5 65.8,464.6 66.4,464.8 67.0,464.8 67.6,464.7 68.2,464.6 68.8,467.2 69.4,465.5 70.0,465.0 70.6,465.9 71.2,466.0 72.0,466.4 72.4,466.5 73.0,466.9 73.6,467.3 74.2,465.9 74.8,466.6 75.4,464.4 76.0,464.4 76.6,464.1 77.2,463.5 78.0,464.3 78.4,463.9 79.0,464.8 79.6,463.0 80.2,463.9 80.8,464.0 81.4,463.7 82.0,462.4 82.6,462.5 83.0,462.5 83.8,462.0 84.4,463.9 85.0,464.6 85.6,465.1 86.2,464.7 86.8,465.0 87.4,465.3 88.0,465.0 88.6,464.6 89.0,464.5 89.8,463.3 90.4,463.1 91.0,463.2 91.6,463.7 92.2,462.7 92.8,463.3 93.4,462.2 94.0,460.4 94.6,460.9 95.2,460.2 95.5,459.9 95.8,460.0 96.4,460.5 97.0,460.9 97.6,461.4 98.2,462.7 98.8,462.9 99.4,463.1 100.0,461.7 100.6,462.3 101.2,462.9 101.8,462.5 102.4,461.7 103.0,462.5 103.6,462.4 104.2,462.2 104.8,463.8 105.4,464.7 106.0,464.3 106.6,464.1 107.2,464.5 107.8,464.9 108.4,465.1 109.0,463.5 109.6,463.4 110.2,464.1 110.8,464.8 111.4,465.4 112.0,465.6 112.6,464.3 113.0,464.1 113.8,463.3 114.4,465.4 115.0,465.4 115.6,465.7 116.2,466.2 116.8,465.6 117.4,464.4 118.0,464.3 118.6,464.5 119.2,466.2 119.8,466.3 120.4,465.4 121.0,465.5 121.6,465.7 122.2,464.9 122.8,464.7 123.4,463.4 124.0,463.9 124.6,463.8 125.2,463.0 125.8,462.9 126.4,463.3 127.0,463.1 127.6,463.6 128.2,463.7 128.5,463.6 128.8,463.7 129.4,465.0 130.0,465.6 130.6,464.9 131.2,465.5 131.8,464.8 132.4,466.6 133.0,467.0 133.6,467.4 134.0,467.5 134.8,467.8 135.4,468.3 136.0,468.1 136.6,467.0 137.2,465.8 137.8,465.6 138.4,464.7 139.0,466.1 139.6,464.7 140.0,465.4 140.8,464.3 141.4,463.9 142.0,464.0 142.6,464.0 143.2,464.1 143.8,464.8 144.4,464.1 145.0,464.6 145.5,464.8 146.2,464.1 146.8,463.5 147.4,463.8 148.0,463.4 148.6,463.1 149.2,461.0 150.0,461.4 150.4,461.4 151.0,461.0 151.6,461.1 152.2,462.1 152.8,461.4 153.4,461.2 154.0,459.6 154.6,459.1 155.0,458.9 155.8,459.2 156.4,459.6 157.0,459.8 157.6,460.7 158.2,460.8 158.8,461.3 159.4,462.0 160.0,463.2 160.6,463.5 161.2,464.3 161.8,465.3 162.4,467.2 163.0,469.0 163.6,469.5 164.2,469.7 164.5,470.1 164.8,469.9 165.4,469.1 166.0,469.0 166.6,469.2 167.2,469.2 167.8,469.4 168.4,468.3 169.0,468.0 169.6,469.4 170.0,470.0 170.8,469.3 171.4,470.8 172.0,469.4 172.6,468.8 173.2,469.2 173.8,468.1 174.4,468.1 175.0,468.6 175.6,468.8 176.0,469.0 176.8,469.7 177.4,469.0 178.0,468.9 178.6,469.6 179.2,469.9 179.8,469.6 180.4,470.6 181.0,471.4 181.6,470.9 182.2,471.8 182.8,470.3 183.4,469.8 184.0,470.6 184.6,470.4 185.2,470.3 185.8,470.9 186.4,471.4 187.0,472.0 187.6,471.2 188.2,470.5 188.8,472.6 189.4,472.0 190.0,469.6 190.6,470.2 191.0,470.3 191.8,471.3 192.4,471.0 193.0,470.1 193.6,471.2 194.2,471.3 194.8,469.3 195.4,470.2 196.0,469.9 196.6,470.9 197.0,470.2 197.8,470.7 198.4,470.5 199.0,470.6 199.6,470.1 200.2,469.4 200.8,469.4 201.4,469.7 202.0,469.4 202.7,469.1 203.2,470.1 203.8,471.3 204.4,472.9 205.0,473.5 205.5,473.6 206.2,474.3 206.8,475.0 207.4,476.7 208.0,477.3 208.4,477.6 209.2,477.4 209.8,476.4 210.4,477.2 211.0,476.5 211.6,479.2 212.2,479.7 213.0,478.6 213.4,478.5 214.0,478.2 214.6,478.9 215.2,479.0 215.8,480.0 216.4,480.7 217.0,480.3 217.8,479.3 218.2,479.9 218.8,479.7 219.4,480.8 220.0,480.4 220.6,481.0 221.2,481.0 221.8,480.5 222.4,480.0 223.0,480.8 223.6,482.0 224.2,482.0 225.0,481.2 225.4,481.9 226.0,481.6 226.6,480.1 227.2,480.7 227.8,482.1 228.4,481.5 229.0,480.3 229.6,481.1 230.2,482.6 230.8,482.7 231.4,482.9 232.0,483.2 232.6,483.3 233.0,482.5 233.8,482.7 234.4,482.3 235.0,481.7 235.6,482.0 236.2,480.7 236.8,481.9 237.4,481.5 238.0,480.7 238.6,481.2 239.2,479.0 240.0,479.2 240.4,478.6 241.0,479.5 241.6,479.0 242.2,480.4 242.8,479.6 243.4,479.9 244.0,478.8 244.6,479.9 245.2,479.2 246.0,479.1 246.4,478.5 247.0,477.4 247.6,477.3 248.2,478.4 248.8,477.1 249.4,476.1 250.0,476.1 250.6,477.0 251.0,476.4 251.8,475.7 252.4,476.0 253.0,475.7 253.6,476.1 254.2,477.0 254.8,476.5 255.6,475.8 256.0,476.5 256.6,476.2 257.2,475.1 257.8,474.6 258.4,474.3 259.0,476.4 259.6,476.2 260.2,476.6 260.8,476.9 261.4,475.7 262.0,476.4 262.6,475.7 263.0,475.1 263.8,474.7 264.4,474.5 265.0,474.7 265.6,475.3 266.2,477.3 266.8,476.5 267.4,476.1 268.0,476.4 268.6,476.3 269.2,476.0 269.8,474.9 270.4,474.5 270.7,475.2 271.0,474.4 271.6,474.5 272.2,474.4 272.8,475.7 273.4,474.8 274.0,477.0 274.6,476.2 275.2,475.4 275.8,475.1 276.4,476.3 277.0,477.6 277.6,476.9 278.2,477.6 279.0,478.0 279.4,478.1 280.0,478.8 280.6,479.4 281.0,479.6 281.8,474.7 282.4,471.2 283.0,468.0 283.6,464.1 284.2,460.0 285.0,455.0 285.4,452.9 286.0,449.5 286.3,448.0 286.6,446.4 287.4,442.7 287.8,444.6 288.4,447.9 289.0,451.0 289.6,453.7 290.2,456.8 290.6,459.0 291.4,457.4 292.0,456.5 292.6,455.1 293.0,454.2 293.8,454.1 294.4,454.5 295.0,453.9 295.3,452.2 295.6,453.4 296.2,453.4 296.8,452.6 297.4,453.0 298.0,453.2 298.6,454.0 299.0,454.0 299.8,450.1 300.5,447.0 301.0,444.5 301.6,441.9 302.0,440.0 302.8,440.3 303.4,440.5 304.0,440.6 304.6,441.0 305.0,441.7 305.8,441.6 306.4,442.5 307.0,443.0 307.6,443.4 308.2,444.9 308.5,446.3 308.8,446.1 309.4,447.6 310.0,446.0 310.6,447.1 311.2,447.0 311.8,447.6 312.4,447.4 313.0,447.7 313.6,448.3 314.0,449.0 314.8,449.7 315.4,451.8 316.0,451.3 316.6,451.3 317.2,450.2 317.8,450.0 318.4,451.4 319.0,451.1 319.6,451.4 320.0,452.4 320.8,453.4 321.4,453.8 322.0,455.0 322.6,454.6 323.2,452.8 323.8,453.4 324.4,453.9 325.0,453.4 325.6,453.6 326.0,453.9 326.8,455.5 327.4,454.7 328.0,453.5 328.6,454.2 329.2,453.3 329.8,454.2 330.4,454.9 331.0,454.9 331.6,454.5 332.2,453.9 332.8,455.3 333.4,455.2 334.0,453.6 334.6,452.8 335.2,453.0 335.8,453.1 336.4,452.6 337.0,453.1 337.6,452.9 338.2,453.9 339.0,453.5 339.4,453.3 340.0,453.1 340.6,452.0 341.2,452.9 341.8,452.9 342.4,452.1 343.0,452.0 343.6,451.3 344.2,453.1 344.8,452.3 345.4,452.2 346.0,452.0 346.4,450.9 347.2,450.7 347.8,450.3 348.4,450.6 349.0,450.7 349.6,451.1 350.2,451.3 350.8,450.4 351.4,449.6 352.0,449.0 352.6,448.5 353.0,448.5 353.8,448.5 354.4,448.6 355.0,448.6 355.6,447.6 356.2,447.4 356.8,447.1 357.4,447.2 358.0,447.8 358.6,448.6 359.2,448.5 359.6,448.4 360.4,448.7 361.0,449.1 361.6,450.3 362.2,451.2 362.8,451.0 363.4,451.3 364.0,451.9 364.6,452.6 365.2,452.5 365.8,451.0 366.4,451.3 367.0,452.7 367.6,453.3 368.2,454.0 369.0,454.0 369.4,453.9 370.0,454.0 370.6,454.3 371.2,453.9 371.8,454.0 372.4,453.9 373.0,453.7 373.6,451.9 374.2,451.0 375.0,450.7 375.4,450.2 376.0,449.1 376.6,450.2 377.2,449.1 377.8,449.2 378.4,447.7 379.0,447.6 379.6,447.5 380.2,447.5 380.8,448.1 381.3,448.1 382.0,448.5 382.6,448.1 383.2,450.0 383.8,450.2 384.4,449.8 385.0,448.7 385.6,450.0 386.0,450.2 386.8,451.7 387.4,450.8 388.0,450.8 388.6,450.8 389.2,451.2 390.0,451.8 390.4,451.8 391.0,451.4 391.6,451.0 392.2,450.5 392.8,451.2 393.4,450.5 394.0,449.1 394.6,448.8 395.0,449.2 395.8,449.8 396.4,450.3 397.0,450.4 397.6,450.0 398.2,449.1 398.8,449.2 399.4,448.5 400.0,447.8 400.6,447.3 401.2,446.9 401.8,446.6 402.4,444.8 403.0,443.1 403.6,443.0 404.0,442.5 404.8,442.0 405.4,440.3 406.0,439.3 406.6,437.9 407.2,438.7 407.8,437.4 408.4,436.8 409.0,435.8 409.6,435.3 410.2,435.6 410.8,434.9 411.5,434.1 412.0,434.6 412.6,432.6 413.2,433.4 413.8,433.7 414.4,431.7 415.0,431.3 415.4,430.9 416.2,430.5 416.8,430.1 417.4,430.8 418.0,432.0 418.6,431.8 419.2,431.4 419.8,431.7 420.4,432.2 421.0,432.7 421.6,431.6 422.2,430.5 422.8,429.9 423.4,431.5 424.0,431.0 424.6,430.0 425.0,429.2 425.8,428.6 426.4,427.2 427.0,425.5 427.6,424.8 428.2,424.4 428.6,424.6 429.4,423.1 430.0,422.2 430.6,421.6 431.2,421.2 431.5,421.5 431.8,421.0 432.4,420.8 433.0,419.4 433.6,419.4 434.3,418.6 434.8,418.3 435.4,418.1 436.0,418.2 436.6,417.7 437.2,418.7 438.0,418.7 438.4,419.2 439.0,418.3 439.6,419.0 440.2,419.9 441.0,419.4 441.4,419.6 442.0,419.7 442.6,420.7 443.2,421.2 444.0,422.2 444.4,422.5 445.0,421.9 445.6,422.0 446.2,422.8 446.8,424.1 447.5,425.1 448.0,425.4 448.6,425.2 449.2,423.5 449.8,424.2 450.4,424.3 451.0,423.8 451.6,424.2 452.2,424.0 452.8,423.4 453.4,422.1 454.0,423.1 454.6,422.3 455.2,421.4 455.8,420.1 456.5,419.6 457.0,419.4 457.6,418.4 458.2,417.7 458.8,415.9 459.4,414.3 460.0,412.2 460.7,409.1 461.2,407.9 461.8,406.6 462.5,405.9 463.0,404.8 463.6,404.6 464.2,404.4 464.5,404.4 464.8,404.5 465.4,404.6 466.0,404.7 466.6,406.3 467.2,407.9 468.0,408.0 468.4,409.0 469.0,408.9 469.6,409.9 470.2,411.7 471.0,412.1 471.4,412.0 472.0,410.9 472.6,410.1 473.2,408.9 473.8,408.0 474.5,408.4 475.0,408.3 475.6,408.1 476.2,408.3 476.8,406.6 477.4,406.7 477.7,406.3 478.0,407.0 478.6,408.7 479.2,410.7 480.0,412.5 480.4,413.8 481.0,414.8 481.6,415.4 482.2,417.0 482.5,417.6 482.8,417.2 483.4,416.4 484.0,416.4 484.6,415.7 485.2,414.6 486.0,414.6 486.4,413.5 487.0,412.8 487.6,413.8 488.2,413.6 489.0,413.1 489.4,413.2 490.0,414.2 490.6,414.5 491.2,416.2 491.8,416.2 492.5,415.8 493.0,416.5 493.6,416.8 494.2,416.6 494.8,417.5 495.4,417.7 495.7,417.8 496.0,417.3 496.6,415.9 497.2,414.3 497.5,414.1 497.8,412.9 498.4,412.9 499.0,411.5 499.5,409.9 500.2,410.4 500.8,409.9 501.4,410.4 502.0,409.6 502.6,410.4 503.2,409.6 503.8,407.5 504.4,407.6 505.0,407.9 505.6,408.0 506.2,409.4 506.8,409.6 507.4,408.7 508.0,410.0 508.6,410.9 509.2,410.8 509.8,411.5 510.4,411.8 510.8,411.9 511.6,411.3 512.2,410.4 512.8,409.2 513.6,409.0 514.0,410.2 514.6,410.8 515.2,410.7 515.8,410.0 516.4,408.5 517.0,408.6 517.6,408.4 518.2,408.5 518.8,407.3 519.4,407.0 520.0,407.2 520.6,407.9 521.0,408.1 521.8,408.3 522.4,409.1 523.0,409.8 523.6,409.2 524.2,409.6 525.0,410.0 525.4,408.9 526.0,407.8 526.6,406.2 527.0,405.0 527.8,402.6 528.4,400.2 528.8,399.5 529.6,399.0 530.2,398.5 530.8,398.2 531.4,398.4 532.0,398.0 532.5,397.8 533.2,398.4 533.8,399.5 534.4,400.1 535.0,399.9 535.6,401.1 536.3,401.6 536.8,401.6 537.4,401.3 538.0,400.2 538.6,399.3 539.2,399.0 539.8,399.3 540.4,399.3 541.0,399.6 541.6,400.3 542.2,400.8 542.8,400.4 543.4,400.5 544.0,401.6 544.6,402.9 545.2,403.6 545.8,404.7 546.4,404.1 547.0,404.0 547.6,404.4 548.2,404.2 548.8,404.7 549.4,404.9 550.0,404.5 550.6,403.9 551.2,403.8 551.5,404.5 551.8,404.9 552.4,407.2 553.0,409.0 553.6,411.9 554.3,414.0 554.8,413.9 555.4,413.3 556.0,414.6 556.6,413.4 557.2,413.3 557.8,412.0 558.4,412.4 559.0,411.9 559.6,412.0 560.2,411.6 560.8,411.8 561.4,412.7 562.0,414.4 562.8,414.4 563.2,414.3 563.8,414.0 564.4,413.3 565.0,413.2 565.6,413.6 566.0,413.5 566.8,413.4 567.4,412.6 568.0,412.5 568.6,413.2 569.2,412.3 569.5,412.6 569.8,412.6 570.4,413.1 571.0,413.5 571.6,413.1 572.2,411.6 572.8,412.6 573.4,413.7 574.0,413.8 574.6,414.0 575.2,414.1 575.8,413.3 576.4,411.9 577.0,411.9 577.6,411.7 578.0,412.5 578.8,412.1 579.4,410.6 580.0,409.5 580.6,408.8 581.0,408.5 581.8,408.2 582.4,406.7 583.0,406.6 583.6,404.5 584.2,403.7 584.8,405.1 585.4,404.9 586.0,404.5 586.6,404.5 587.0,403.7 587.8,403.6 588.4,403.5 589.0,403.3 589.6,403.2 590.2,402.9 590.8,402.9 591.2,402.8 592.2,395.0 592.6,390.8 593.0,386.7 593.8,383.6 594.2,382.0 595.0,379.1 595.3,378.2 595.6,379.8 596.2,383.1 597.0,387.0 597.4,388.5 598.0,391.1 598.6,393.6 599.0,395.2 599.8,391.6 600.5,388.0 601.0,385.7 601.6,382.8 602.0,381.0 602.8,382.8 603.4,384.3 604.0,385.2 604.6,386.7 605.2,387.0 605.8,387.7 606.3,388.6 607.0,387.5 607.6,388.0 608.2,386.5 608.8,385.2 609.4,385.2 610.0,384.2 610.6,383.1 611.2,382.8 611.8,383.5 612.4,383.2 613.0,382.1 613.6,382.5 614.2,383.1 614.8,384.1 615.4,383.5 616.0,384.3 616.7,384.9 617.2,385.1 617.8,384.7 618.4,384.1 619.0,383.0 619.6,383.1 620.2,383.0 620.8,384.5 621.4,383.0 622.0,382.4 622.4,383.2 623.2,383.3 623.8,382.5 624.4,382.6 625.0,383.0 625.6,383.1 626.2,382.8 626.8,382.6 627.4,380.5 628.0,381.1 628.6,381.3 629.2,380.4 629.8,380.3 630.4,380.3 631.0,380.1 631.6,380.2 632.2,380.2 632.8,379.6 633.4,381.8 634.0,381.8 634.6,382.6 635.2,382.1 635.6,381.9 636.4,382.7 637.0,383.5 637.6,383.9 638.2,384.2 638.8,384.1 639.4,384.4 640.0,385.3 640.6,383.6 641.3,384.2 641.8,383.4 642.4,383.3 643.0,384.2 643.6,385.2 644.2,384.9 644.8,385.9 645.4,384.9 646.0,384.4 646.6,384.7 647.0,385.1 647.8,385.0 648.4,384.0 649.0,384.8 649.6,386.2 650.2,385.5 650.8,385.3 651.4,384.3 652.0,384.6 652.6,384.7 653.2,384.8 653.8,385.9 654.4,386.4 655.0,385.6 655.6,386.5 656.2,384.9 656.8,386.6 657.4,386.9 658.0,386.1 658.6,385.9 659.2,385.6 659.8,387.8 660.4,388.0 661.0,386.9 661.6,386.5 662.2,387.0 662.8,386.9 663.4,387.5 664.0,387.7 664.6,386.9 665.2,386.8 665.8,387.8 666.4,387.2 667.0,386.9 667.5,385.7 668.2,384.8 668.8,384.9 669.4,384.0 670.0,383.6 670.6,383.9 671.2,383.9 671.8,384.2 672.4,384.6 673.0,385.3 673.6,386.0 674.0,386.0 674.8,386.1 675.4,386.9 676.0,386.5 676.6,386.9 677.2,386.5 677.8,386.7 678.4,386.1 679.0,387.8 679.6,387.9 680.2,387.1 680.8,386.1 681.4,386.3 682.0,387.7 682.6,387.9 683.2,389.7 683.8,390.1 684.4,390.5 685.0,391.1 685.7,392.4 686.2,392.4 686.8,392.6 687.4,392.7 688.0,391.1 688.6,391.0 689.2,389.8 690.0,389.7 690.4,389.7 691.0,388.8 691.6,389.3 692.2,388.9 692.8,390.0 693.4,389.2 694.2,388.6 694.6,389.2 695.2,390.1 695.8,391.0 696.4,389.5 697.0,391.0 697.6,390.0 698.0,390.8 698.8,390.4 699.4,391.0 700.0,391.5 700.6,392.4 701.2,393.3 701.8,394.2 702.4,393.7 703.0,393.3 703.6,394.0 704.2,392.5 704.8,392.8 705.5,393.4 706.0,392.4 706.6,392.6 707.2,394.2 707.8,394.5 708.4,393.8 709.0,394.6 709.3,394.6 709.6,393.4 710.2,393.6 710.8,393.9 711.4,394.3 712.0,394.9 712.6,395.0 713.0,395.2 713.8,394.8 714.4,394.8 715.0,394.7 715.6,395.6 716.2,395.6 717.0,395.7 717.4,396.2 718.0,397.5 718.6,396.8 719.2,397.0 719.8,395.9 720.4,395.7 721.0,395.6 721.6,396.2 722.2,396.5 722.8,395.8 723.4,395.4 724.0,395.8 724.5,395.3 725.2,394.6 725.8,394.2 726.4,394.6 727.0,394.7 727.6,393.3 728.2,393.3 728.8,391.2 729.2,392.3 730.0,393.6 730.6,392.2 731.2,392.0 731.8,390.9 732.4,390.9 733.0,391.7 733.6,392.4 734.0,392.4 734.8,391.0 735.4,390.6 736.0,392.7 736.6,392.5 737.2,391.7 737.8,391.9 738.4,391.2 739.0,391.4 739.6,391.0 740.2,390.1 740.8,389.3 741.4,390.9 742.0,391.2 742.6,391.1 743.2,391.0 743.8,390.3 744.4,388.8 745.0,389.1 745.6,389.3 746.2,389.1 746.8,388.0 747.4,386.2 748.0,386.9 748.6,386.7 749.4,386.0 749.8,386.2 750.4,386.5 751.0,386.4 751.6,386.1 752.2,386.8 752.5,387.4 752.8,387.8 753.4,388.0 754.0,388.9 754.6,388.6 755.2,389.6 755.7,390.1 756.4,390.0 757.0,390.1 757.6,390.2 758.2,389.7 758.8,389.1 759.4,387.1 760.0,386.9 760.6,387.8 761.2,387.3 761.8,387.0 762.4,387.5 763.0,385.4 763.6,385.8 764.2,385.9 764.8,383.6 765.4,383.1 766.0,383.5 766.6,382.7 767.2,382.1 767.8,382.5 768.4,382.1 769.0,382.0 769.6,381.3 770.2,380.9 770.8,380.6 771.4,381.3 772.0,380.0 772.6,378.7 773.0,378.2 773.8,378.9 774.4,380.4 775.0,379.9 775.6,380.4 776.0,380.0 776.8,381.3 777.4,380.3 778.0,379.4 778.6,380.2 779.4,380.6 779.8,380.6 780.4,380.6 781.0,380.2 781.6,380.4 782.2,379.7 782.8,378.6 783.3,378.9 784.0,377.6 784.6,375.7 785.2,375.2 785.8,375.0 786.4,374.8 787.2,374.3 787.6,374.7 788.2,375.0 788.8,374.9 789.5,376.9 790.0,377.2 790.6,378.5 791.2,379.0 792.0,379.5 792.4,380.7 793.0,379.6 793.6,381.3 794.2,381.7 794.5,382.1 794.8,382.1 795.4,382.5 796.0,383.0 796.7,383.6 797.2,383.2 797.8,383.9 798.4,384.3 799.0,384.2 799.6,383.5 800.2,382.5 800.8,381.7 801.4,381.3 802.0,381.3 802.6,381.2 803.2,382.5 803.8,383.8 804.4,384.3 805.0,383.6 805.6,384.1 806.0,384.6 806.8,384.6 807.4,385.0 808.0,384.2 808.6,384.5 809.2,383.6 809.8,382.8 810.4,382.8 811.0,382.2 811.6,382.1 812.2,382.5 812.8,383.2 813.4,382.8 814.0,382.9 814.6,384.1 815.2,383.4 815.8,381.8 816.4,384.3 817.0,383.2 817.6,382.5 818.2,381.5 818.8,381.2 819.4,381.3 820.0,381.5 820.6,381.4 821.2,381.4 821.8,381.3 822.4,381.9 823.0,382.2 823.4,382.2 824.2,380.8 824.8,379.9 825.4,380.5 826.0,380.8 826.6,379.7 827.2,378.4 828.0,378.6 828.4,377.0 829.0,376.4 829.6,376.4 830.2,375.5 830.5,376.9 830.8,376.8 831.4,376.3 832.0,376.5 832.6,375.4 833.2,374.4 833.8,374.8 834.4,374.7 835.0,373.9 835.6,374.8 836.0,375.7 836.8,375.7 837.4,377.2 838.0,377.0 838.6,376.5 839.0,377.3 839.8,377.5 840.4,378.5 841.0,380.6 841.6,380.3 842.2,381.0 842.8,381.8 843.4,382.2 843.9,382.0 844.6,381.3 845.2,381.4 845.8,383.6 846.4,383.6 847.0,383.5 847.6,382.8 848.2,383.4 848.6,383.8 849.4,383.7 850.0,382.8 850.6,382.8 851.2,382.4 851.8,382.1 852.5,383.7 853.0,384.2 853.6,382.3 854.2,382.2 854.8,383.1 855.4,382.4 856.0,383.0 856.5,381.8 857.2,382.4 857.8,382.4 858.4,383.0 859.0,382.9 859.6,382.3 860.0,383.0 860.8,383.5 861.4,384.0 862.0,382.5 862.6,382.4 863.2,382.6 863.8,382.7 864.3,383.1 865.0,383.3 865.6,384.9 866.2,385.7 866.8,386.0 867.4,386.0 868.0,383.2 868.6,383.4 869.0,384.6 869.8,384.0 870.4,385.4 871.0,384.8 871.6,385.2 872.2,385.0 872.8,385.6 873.4,384.6 873.8,385.3 874.6,384.9 875.2,384.8 875.8,384.8 876.4,385.8 877.0,385.5 877.6,386.6 878.2,386.7 878.5,387.3 878.8,387.3 879.4,387.4 880.0,386.5 880.6,389.1 881.2,389.4 881.8,389.6 882.4,387.4 883.2,387.8 883.6,387.2 884.2,387.6 884.8,387.3 885.4,388.2 886.0,388.3 886.6,389.0 887.2,389.6 887.8,388.4 888.4,387.8 889.0,387.3 889.5,388.4 890.2,387.5 890.8,386.6 891.4,385.4 892.0,385.3 892.6,384.9 893.2,384.5 893.5,384.2 893.8,382.9 894.4,382.9 895.0,381.8 895.8,380.6 896.2,379.9 896.8,381.0 897.4,379.9 898.0,379.5 898.6,379.0 899.2,378.7 899.8,379.3 900.5,379.3 901.0,377.9 901.6,377.4 902.2,376.7 902.8,376.3 903.4,375.3 903.7,375.6 904.0,374.4 904.6,374.2 905.2,374.7 905.8,375.5 906.4,373.8 907.0,374.5 907.6,374.2 908.2,375.3 908.8,373.9 909.4,374.2 910.0,374.6 910.6,373.1 911.2,372.7 911.8,373.6 912.4,373.1 913.0,373.8 913.6,373.5 914.0,372.4 914.8,371.9 915.4,372.2 916.0,371.4 916.6,372.2 917.2,370.7 917.9,370.8 918.4,369.5 919.0,368.0 919.6,366.5 920.2,365.2 920.8,364.0 921.4,362.9 921.8,362.6 922.6,361.6 923.2,361.1 923.8,360.6 924.4,360.6 925.0,360.7 925.7,359.9 926.2,360.0 926.8,359.4 927.4,361.4 928.0,360.5 928.6,360.5 929.2,361.7 929.7,361.9 930.4,363.7 931.0,365.1 931.6,365.5 932.2,367.1 932.8,367.1 933.6,368.0 934.0,367.9 934.6,366.5 935.2,365.6 936.0,365.8 936.4,366.1 937.0,365.2 937.6,365.8 938.2,364.9 939.0,364.9 939.4,365.2 940.0,365.0 940.6,364.8 941.2,364.8 941.8,364.7 942.5,364.9 943.0,366.2 943.6,366.4 944.2,366.7 944.8,365.1 945.4,365.5 946.2,366.7 946.6,366.6 947.2,365.6 947.8,365.4 948.4,365.9 949.0,365.3 949.5,364.1 950.2,363.3 950.8,363.5 951.4,362.8 952.0,362.9 952.5,363.7 953.2,365.3 953.8,365.4 954.4,365.1 955.0,363.0 955.6,363.3 956.2,362.1 956.8,361.8 957.5,363.0 958.0,362.2 958.6,363.0 959.2,363.1 959.8,363.7 960.4,363.1 961.0,362.7 961.6,363.8 962.2,363.8 962.7,363.1 963.4,363.7 964.0,364.3 964.7,364.2 965.2,365.1 965.8,365.1 966.4,365.1 966.7,365.5 967.0,365.3 967.6,365.8 968.2,366.6 968.8,365.9 969.4,364.9 970.0,364.5 970.6,364.5 971.2,365.8 971.8,364.9 972.4,363.7 973.0,364.2 973.6,363.1 974.2,364.5 974.8,364.0 975.4,363.8 976.0,363.5 976.6,361.9 977.2,362.3 977.8,362.8 978.4,362.5 979.0,362.6 979.3,362.5 979.6,362.7 980.2,363.7 980.8,363.9 981.4,364.9 982.0,365.3 982.4,365.6 983.2,365.3 983.8,364.6 984.4,364.7 985.0,365.9 985.6,365.8 986.2,365.7 987.0,365.0 987.4,364.9 988.0,365.8 988.6,366.1 989.2,367.2 990.0,367.2 990.4,368.0 991.0,368.2 991.6,365.8 992.2,367.1 992.8,367.8 993.4,368.4 994.0,369.6 994.6,370.1 995.2,370.8 996.0,370.2 996.4,370.7 997.0,372.0 997.6,372.9 998.2,372.6 999.0,373.4 999.4,372.7 1000.0,371.7 1000.6,371.2 1001.2,371.8 1001.5,371.2 1001.8,370.6 1002.4,370.2 1003.0,369.0 1003.7,368.5 1004.2,367.7 1004.8,368.6 1005.4,367.6 1006.0,367.0 1006.5,366.4 1007.2,367.0 1007.8,366.8 1008.4,366.7 1009.0,366.5 1009.6,366.8 1010.2,368.3 1010.8,369.2 1011.5,369.1 1012.0,369.6 1012.6,369.5 1013.2,369.6 1014.0,370.4 1014.4,370.4 1015.0,370.3 1015.6,369.6 1016.2,369.7 1016.8,371.0 1017.4,370.7 1018.0,368.3 1018.5,368.0 1019.2,367.9 1019.8,367.3 1020.4,367.7 1021.0,368.5 1021.6,369.0 1022.2,369.8 1022.8,369.1 1023.3,368.5 1024.0,367.6 1024.6,366.2 1025.2,365.7 1025.8,367.1 1026.4,367.6 1027.0,366.2 1027.6,366.5 1028.2,365.7 1028.8,366.0 1029.4,364.5 1030.0,364.3 1030.4,364.0 1031.2,364.3 1031.8,364.3 1032.4,364.6 1033.0,365.7 1033.6,367.4 1034.2,368.3 1034.8,368.9 1035.4,369.2 1036.0,368.9 1036.6,368.7 1037.2,368.7 1037.8,369.5 1038.4,369.5 1039.0,368.7 1039.6,369.2 1040.2,369.3 1040.5,369.1 1040.8,368.7 1041.4,369.5 1042.0,369.3 1042.6,368.6 1043.2,368.9 1043.8,369.7 1044.4,370.7 1045.0,371.1 1045.4,369.4 1046.2,370.5 1046.8,370.8 1047.4,370.9 1048.0,371.5 1048.6,371.7 1049.2,371.7 1049.8,371.1 1050.4,370.5 1051.0,370.4 1051.6,370.0 1052.2,369.1 1052.8,369.8 1053.4,369.3 1054.0,368.1 1054.8,366.5 1055.2,367.3 1055.8,368.5 1056.4,369.8 1057.0,370.8 1057.6,371.2 1058.0,370.5 1058.8,372.3 1059.4,371.5 1060.0,372.3 1060.6,373.7 1061.0,374.3 1061.8,374.5 1062.4,374.4 1063.0,374.5 1063.6,374.6 1064.0,373.7 1064.8,373.9 1065.4,371.8 1066.0,373.7 1066.6,373.2 1067.4,372.3 1067.8,371.8 1068.4,372.1 1069.0,371.6 1069.6,372.0 1070.2,371.4 1070.8,370.7 1071.4,370.7 1072.0,370.6 1072.6,371.3 1073.2,371.7 1073.7,371.6 1074.4,372.7 1075.0,372.8 1075.6,373.7 1076.0,374.2 1076.8,375.3 1077.4,375.1 1078.0,375.8 1078.4,376.5 1079.2,375.8 1079.8,376.3 1080.4,376.6 1081.0,377.8 1081.6,376.7 1082.0,376.7" fill="none" stroke="#A5A5A5" stroke-width="8.5" stroke-linecap="round" stroke-linejoin="round"/>
<polyline points="-2.0,459.5 -1.4,460.4 -0.8,460.7 0.0,459.7 0.4,459.5 1.0,459.9 1.6,460.5 2.2,460.5 2.8,461.1 3.4,461.2 4.0,460.8 4.6,462.5 5.0,463.5 5.8,465.3 6.4,465.1 7.0,464.5 7.6,464.0 8.2,462.9 9.0,464.9 9.4,463.9 10.0,463.6 10.6,464.1 11.2,466.5 11.8,466.5 12.4,465.9 13.0,466.3 13.6,465.9 14.2,465.3 14.8,464.0 15.4,463.6 16.0,464.2 16.6,465.0 17.2,462.8 17.8,461.4 18.4,460.2 19.0,459.5 19.6,458.4 20.2,458.0 20.8,458.9 21.4,458.6 22.0,457.1 22.5,458.1 23.2,457.4 23.8,456.1 24.4,456.0 25.0,455.8 25.6,455.5 26.2,455.8 26.5,455.7 26.8,455.2 27.4,456.9 28.0,458.2 28.6,459.2 29.2,459.7 30.0,459.3 30.4,458.8 31.0,459.7 31.6,457.4 32.2,458.0 33.0,458.8 33.4,458.4 34.0,458.7 34.6,457.9 35.2,458.6 35.8,456.9 36.4,456.2 37.0,455.5 37.6,453.6 38.0,454.0 38.8,454.8 39.4,452.7 40.0,453.0 40.6,451.9 41.2,452.2 41.8,450.8 42.5,449.5 43.0,449.9 43.6,450.4 44.2,448.8 44.8,450.6 45.4,448.6 46.0,449.2 46.6,450.1 47.2,448.8 48.0,449.4 48.4,450.7 49.0,450.4 49.6,449.0 50.2,447.5 50.8,447.6 51.4,447.8 52.0,448.7 52.6,449.5 53.0,449.9 53.8,448.8 54.4,448.3 55.0,448.9 55.6,447.5 56.2,447.1 57.0,448.5 57.4,449.0 58.0,446.8 58.6,446.5 59.2,446.8 59.8,446.7 60.5,445.7 61.0,446.2 61.6,446.3 62.2,447.8 62.8,448.7 63.5,448.9 64.0,449.1 64.6,449.5 65.2,450.9 66.0,451.5 66.4,451.5 67.0,451.9 67.6,452.3 68.2,450.8 68.8,452.1 69.4,450.8 70.0,450.9 70.6,449.7 71.2,448.2 71.8,448.7 72.4,449.2 73.0,449.0 73.6,449.3 74.0,448.6 74.8,447.0 75.4,446.5 76.0,448.0 76.6,447.5 77.2,445.9 77.5,445.5 77.8,444.8 78.4,443.8 79.0,444.4 79.6,443.0 80.2,441.8 81.0,441.9 81.4,441.8 82.0,441.8 82.6,443.4 83.2,442.3 83.8,443.4 84.4,443.7 85.0,443.3 85.5,443.7 86.2,444.4 86.8,443.0 87.4,444.4 88.0,442.7 88.6,443.2 89.2,443.5 90.0,443.7 90.4,442.8 91.0,441.6 91.6,440.4 92.2,440.2 92.5,438.8 92.8,438.5 93.4,437.5 94.0,435.8 94.6,437.0 95.2,435.6 95.5,434.9 95.8,435.2 96.4,434.8 97.0,435.2 97.6,436.2 98.2,435.2 98.8,434.8 99.4,434.4 100.0,435.0 100.6,433.7 101.2,433.6 101.8,434.0 102.4,435.8 103.0,436.6 103.6,437.9 104.0,437.1 104.8,437.1 105.4,436.8 106.0,434.7 106.6,434.7 107.2,434.8 107.8,435.7 108.4,437.0 109.0,436.5 109.6,436.3 110.0,436.3 110.8,436.1 111.4,437.0 112.0,438.0 112.6,437.2 113.2,439.8 113.8,440.2 114.4,439.8 115.0,438.9 115.6,438.5 116.2,438.9 117.0,439.0 117.4,438.9 118.0,439.1 118.6,439.9 119.2,439.7 119.8,438.8 120.4,438.3 121.0,437.1 121.6,435.8 122.0,437.0 122.8,436.2 123.4,437.0 124.0,435.9 124.6,435.3 125.2,435.3 125.8,434.1 126.6,433.1 127.0,433.7 127.6,434.3 128.2,435.0 128.8,435.4 129.4,438.1 130.0,438.3 130.6,440.3 131.2,438.3 131.8,439.7 132.4,441.2 133.0,442.0 133.6,442.2 134.2,442.6 134.8,442.0 135.4,442.1 136.0,443.3 136.6,442.9 137.2,442.4 138.0,440.9 138.4,441.0 139.0,439.0 139.6,439.0 140.2,441.4 140.8,441.3 141.4,441.0 142.0,440.1 142.6,440.5 143.2,439.7 143.8,439.3 144.4,438.6 145.0,437.7 145.6,437.3 146.0,434.7 146.8,433.2 147.4,433.1 148.0,431.7 148.6,431.2 149.2,430.2 149.5,430.2 149.8,432.4 150.4,432.0 151.0,431.1 151.6,431.1 152.2,429.7 153.0,428.7 153.4,429.0 154.0,430.0 154.6,428.9 155.2,429.9 156.0,429.5 156.4,428.2 157.0,429.9 157.6,428.7 158.2,430.7 159.0,430.3 159.4,431.5 160.0,432.0 160.6,433.2 161.2,432.0 162.0,433.7 162.4,433.8 163.0,435.3 163.6,436.3 164.2,438.0 164.5,437.7 164.8,439.4 165.4,440.1 166.0,439.8 166.6,439.5 167.2,439.5 167.8,440.3 168.4,440.9 169.0,439.6 169.6,438.7 170.0,438.2 170.8,437.3 171.4,437.0 172.0,437.7 172.6,437.4 173.2,439.6 173.8,440.6 174.4,439.0 175.0,438.7 175.6,438.1 176.2,440.3 176.8,439.1 177.4,438.0 178.0,438.5 178.6,439.6 179.2,439.7 179.6,440.1 180.4,440.1 181.0,440.2 181.6,438.6 182.2,438.3 182.8,437.9 183.4,435.8 184.0,436.7 184.6,435.3 185.2,435.6 185.8,435.0 186.4,437.4 187.0,437.3 187.6,437.7 188.2,437.9 189.0,435.8 189.4,433.8 190.0,433.6 190.4,434.8 191.2,435.1 191.8,436.1 192.4,436.8 193.0,434.7 193.6,435.4 194.2,437.5 195.0,436.2 195.4,434.0 196.0,434.1 196.6,433.8 197.2,434.5 197.8,433.5 198.5,434.1 199.0,432.4 199.6,433.5 200.2,435.5 200.8,435.9 201.4,433.9 202.0,434.1 202.7,433.9 203.2,434.9 203.8,436.2 204.4,437.2 205.0,439.3 205.5,440.9 206.2,443.1 206.8,444.4 207.4,445.8 208.0,445.4 208.4,446.6 209.2,446.5 209.8,447.4 210.4,448.1 211.0,449.8 211.6,449.0 212.2,449.0 212.8,449.7 213.4,449.6 214.0,450.3 214.6,449.5 215.2,451.1 215.8,450.2 216.4,451.0 217.0,450.4 217.6,451.1 218.2,449.0 219.0,449.3 219.4,448.7 220.0,449.0 220.6,450.2 221.2,448.3 221.8,447.1 222.4,446.8 223.0,447.5 223.5,447.3 224.2,446.7 224.8,446.0 225.4,445.5 226.0,445.5 226.5,446.5 227.2,445.4 227.8,445.3 228.4,445.6 229.0,445.5 229.6,445.2 230.2,445.1 230.8,445.6 231.4,447.8 232.0,449.1 232.6,450.1 233.2,450.0 233.8,448.7 234.4,449.2 234.8,450.0 235.6,450.9 236.2,449.3 236.8,449.4 237.4,449.9 238.0,450.7 238.5,449.6 239.2,449.0 239.8,447.8 240.4,447.4 241.0,446.8 241.6,447.9 242.4,448.2 242.8,448.3 243.4,447.8 244.0,446.2 244.6,445.4 245.0,444.1 245.8,443.4 246.4,443.8 247.0,442.8 247.6,440.1 248.0,440.3 248.8,439.1 249.4,438.1 250.0,437.7 250.6,438.5 251.2,440.0 252.0,438.3 252.4,439.1 253.0,439.2 253.6,437.2 254.2,436.8 254.8,436.4 255.6,436.1 256.0,434.4 256.6,434.4 257.2,435.9 257.8,436.9 258.4,437.4 259.0,436.6 259.5,436.3 260.2,436.8 260.8,434.7 261.4,435.4 262.0,434.5 262.6,434.8 263.0,434.2 263.8,433.9 264.4,432.8 265.0,431.2 265.5,430.6 266.2,430.0 266.8,428.5 267.4,428.0 268.0,426.7 268.6,427.1 269.2,427.2 269.8,426.7 270.4,427.4 271.0,430.3 271.5,429.7 272.2,430.4 272.8,430.0 273.4,431.0 274.0,432.7 274.5,433.1 275.2,431.9 275.8,430.8 276.5,429.2 277.0,427.9 277.6,427.1 278.0,426.6 278.8,427.1 279.4,428.4 280.0,429.3 280.6,429.5 281.2,429.8 282.0,430.5 282.4,423.3 283.2,409.0 283.6,399.0 284.0,389.0 284.8,379.9 285.5,372.0 286.0,368.3 286.6,364.1 287.0,360.9 287.8,368.5 288.4,374.4 289.0,380.0 289.6,385.0 290.2,389.7 290.8,394.4 291.2,397.7 292.0,390.6 292.5,386.0 293.2,379.7 293.6,376.0 294.4,377.8 295.0,378.8 295.6,380.2 296.0,380.9 296.8,382.6 297.4,383.9 298.0,384.7 298.4,385.5 299.2,378.8 300.0,372.0 300.4,369.1 301.0,364.9 301.6,360.7 302.0,358.0 302.8,359.0 303.4,360.4 304.0,361.4 304.6,361.1 305.0,361.0 305.8,361.2 306.4,362.3 307.0,363.3 307.8,363.9 308.2,365.0 308.8,363.1 309.4,362.8 310.0,363.3 310.6,366.2 311.2,366.1 311.8,364.4 312.4,365.3 313.0,365.4 313.6,366.3 314.2,365.4 314.8,364.1 315.4,364.5 316.0,365.1 316.6,366.4 317.2,366.9 317.8,366.0 318.2,364.9 319.0,365.4 319.6,365.5 320.2,366.6 320.8,367.4 321.4,367.8 322.0,368.5 322.6,369.0 323.2,367.8 323.8,367.1 324.4,367.6 325.0,368.7 325.8,370.1 326.2,369.7 326.8,369.2 327.4,368.4 328.0,367.6 328.6,366.8 329.2,366.5 330.0,368.2 330.4,366.0 331.0,366.3 331.6,367.2 332.2,367.0 332.8,366.2 333.4,366.8 334.0,365.0 334.3,365.7 334.6,366.6 335.2,364.4 335.8,362.9 336.4,362.7 337.0,363.1 337.6,363.1 338.2,362.4 339.0,360.3 339.4,358.7 340.0,358.5 340.6,358.2 341.2,356.4 341.8,356.0 342.4,355.8 343.0,355.6 343.6,353.9 344.2,353.9 344.8,351.7 345.4,351.1 346.0,350.9 346.6,350.6 347.2,351.9 347.8,353.1 348.4,353.8 349.0,353.6 349.6,353.1 350.2,354.1 350.8,353.6 351.3,354.4 352.0,353.9 352.6,353.4 353.2,351.4 353.8,351.6 354.4,350.2 355.0,348.5 355.6,348.2 356.2,345.3 356.8,345.2 357.4,345.2 358.0,344.0 358.5,343.1 359.2,343.3 359.8,344.4 360.4,345.1 361.0,345.4 361.5,345.2 362.2,346.7 362.8,348.0 363.4,348.3 364.0,349.0 364.5,348.9 365.2,350.1 365.8,350.0 366.4,349.6 367.0,349.0 367.6,349.1 368.0,349.5 368.8,350.7 369.4,350.0 370.0,350.2 370.6,349.1 371.2,351.1 372.0,350.6 372.4,350.9 373.0,349.6 373.6,349.3 374.2,348.6 374.8,350.9 375.4,350.6 376.0,349.9 376.6,348.3 377.0,348.3 377.8,348.7 378.4,350.3 379.0,348.0 379.6,347.1 380.2,347.2 380.8,346.8 381.4,346.6 382.0,347.3 382.5,347.7 383.2,347.4 383.8,347.7 384.4,349.3 385.0,350.4 385.6,349.9 386.0,350.8 386.8,352.2 387.4,351.6 388.0,352.9 388.6,351.8 389.0,353.0 389.8,351.7 390.4,353.0 391.0,352.3 391.6,353.9 392.2,354.3 392.8,354.4 393.4,354.1 394.0,354.2 394.6,352.3 395.2,353.2 395.8,353.8 396.4,354.3 397.0,354.7 397.6,354.8 398.2,353.9 398.5,353.7 398.8,353.7 399.4,354.3 400.0,352.5 400.6,354.2 401.2,352.7 401.8,350.3 402.4,349.9 403.0,350.7 403.6,350.6 404.2,350.7 404.8,351.8 405.4,351.4 406.0,351.1 406.6,349.0 407.2,349.8 408.0,350.9 408.4,350.2 409.0,348.3 409.6,347.8 410.2,349.7 410.8,348.7 411.5,348.3 412.0,347.3 412.6,348.3 413.2,347.6 413.8,347.3 414.6,347.6 415.0,347.8 415.6,348.9 416.2,349.4 416.8,351.0 417.5,351.4 418.0,352.2 418.6,352.9 419.2,353.3 419.8,354.1 420.3,354.4 421.0,352.6 421.6,351.2 422.2,349.6 422.8,348.4 423.4,346.9 424.0,345.0 424.6,342.9 425.2,341.8 425.8,341.0 426.4,338.5 427.0,337.7 427.6,336.4 428.2,334.7 428.8,332.1 429.4,331.5 430.0,329.7 430.6,327.8 431.2,327.0 431.8,324.7 432.4,323.2 433.0,322.2 433.5,321.4 434.2,322.2 434.8,323.3 435.4,324.2 436.0,324.5 436.4,325.0 437.2,324.0 437.8,325.2 438.4,324.6 439.0,322.0 439.6,321.9 440.0,322.0 440.8,323.2 441.4,324.1 442.0,326.0 442.6,326.6 443.2,329.1 443.5,330.1 443.8,330.4 444.4,332.4 445.0,332.6 445.6,333.3 446.2,335.1 446.7,336.3 447.4,335.5 448.0,335.8 448.6,333.7 449.2,333.0 450.0,332.9 450.4,333.2 451.0,334.0 451.6,334.0 452.2,332.1 452.8,332.2 453.4,332.3 454.0,330.8 454.3,330.9 454.6,330.5 455.2,329.6 455.8,328.1 456.5,326.0 457.0,325.1 457.6,323.4 458.4,320.8 458.8,319.6 459.4,318.6 460.0,317.5 460.6,318.4 461.0,317.2 461.8,316.4 462.4,315.2 463.0,314.2 463.6,313.4 464.0,313.0 464.8,314.0 465.4,315.5 466.0,315.2 466.6,316.3 467.2,317.7 467.5,316.7 467.8,317.2 468.4,318.2 469.0,318.5 469.6,319.1 470.2,319.7 470.6,320.7 471.4,319.7 472.0,318.4 472.6,319.1 473.2,317.5 474.0,318.7 474.4,319.1 475.0,319.5 475.6,318.9 476.2,317.5 476.8,317.5 477.3,318.0 478.0,318.5 478.6,318.7 479.2,321.2 480.0,321.0 480.4,321.1 481.0,321.4 481.6,322.0 482.2,321.6 483.0,322.8 483.4,324.1 484.0,324.8 484.6,321.6 485.2,321.3 485.8,321.8 486.5,322.8 487.0,322.3 487.6,324.0 488.2,322.0 488.8,323.9 489.4,323.9 490.0,324.5 490.5,324.1 491.2,325.3 491.8,324.9 492.4,324.2 493.0,325.5 493.5,325.4 494.2,324.4 494.8,326.4 495.4,326.8 496.2,326.5 496.6,326.0 497.2,325.2 498.0,323.2 498.4,321.8 499.0,321.2 499.6,320.4 500.0,319.7 500.8,321.2 501.4,320.3 502.0,320.3 502.5,321.2 503.2,322.9 503.8,322.9 504.4,323.0 504.7,322.9 505.0,322.3 505.6,322.2 506.2,323.9 507.0,325.0 507.4,326.2 508.0,325.1 508.6,326.2 509.4,325.5 509.8,324.5 510.4,323.1 511.0,322.2 511.5,322.2 512.2,320.2 512.8,319.6 513.2,318.9 514.0,319.3 514.6,318.8 515.2,317.8 516.0,319.3 516.4,320.4 517.0,321.3 517.6,321.9 518.2,322.5 518.8,321.6 519.4,322.8 520.0,321.6 520.6,320.8 521.0,321.7 521.8,321.1 522.4,322.2 523.0,322.8 523.6,322.7 524.2,320.2 524.8,317.5 525.4,315.8 526.0,313.0 526.6,311.0 527.2,309.0 527.8,307.1 528.3,306.0 529.0,304.8 529.6,302.8 530.0,303.9 530.8,303.3 531.4,302.8 532.0,301.9 532.6,302.4 533.2,303.5 533.8,304.3 534.4,303.8 535.0,302.8 535.6,303.6 536.2,303.8 536.8,304.0 537.4,303.5 537.8,303.6 538.6,302.3 539.2,302.5 539.8,302.6 540.4,302.4 541.0,301.1 541.5,300.1 542.2,301.2 542.8,301.8 543.4,303.2 544.0,303.3 544.6,303.7 545.3,303.5 545.8,303.6 546.4,301.6 547.0,302.1 547.6,300.7 548.0,302.0 548.8,303.1 549.4,304.0 550.0,303.6 550.6,303.0 551.0,302.8 551.8,307.9 552.5,312.0 553.0,315.8 553.8,321.7 554.2,320.9 554.8,320.0 555.4,319.2 556.0,318.1 556.6,316.5 557.2,315.5 557.8,315.9 558.5,315.0 559.0,315.6 559.6,316.4 560.2,315.9 560.5,317.4 560.8,318.7 561.4,318.0 562.0,318.6 562.3,318.9 562.6,318.2 563.2,317.6 564.0,315.8 564.4,315.3 565.0,314.4 565.6,313.7 566.0,311.6 566.8,312.3 567.4,311.8 568.0,311.4 568.6,312.2 569.0,311.3 569.8,309.8 570.4,309.3 571.0,309.8 571.8,311.1 572.2,310.7 572.8,310.2 573.4,309.8 574.0,310.2 574.6,310.2 575.2,308.6 575.8,307.8 576.5,308.1 577.0,306.8 577.6,305.4 578.2,304.6 579.0,302.9 579.4,303.0 580.0,300.7 580.6,301.1 581.2,299.9 581.8,297.6 582.4,296.6 583.0,294.9 583.6,293.7 584.2,293.3 585.0,291.2 585.4,290.5 586.0,291.1 586.6,289.8 587.2,289.4 588.0,289.2 588.4,290.2 589.0,288.7 589.6,288.0 590.2,288.2 590.7,286.0 591.4,284.2 592.0,282.4 592.6,281.1 593.0,281.4 593.8,279.8 594.4,279.3 595.0,277.4 595.4,276.4 596.2,278.2 597.0,279.8 597.4,280.5 598.0,281.9 598.6,283.5 599.0,284.0 599.8,283.7 600.4,283.1 601.0,282.7 601.5,281.3 602.2,281.9 602.8,280.6 603.4,280.3 604.0,279.8 604.6,280.7 605.2,280.7 605.8,280.1 606.4,279.8 607.0,279.7 607.6,279.9 608.0,279.3 608.8,280.1 609.4,280.2 610.0,279.8 610.6,277.8 611.2,279.2 611.5,278.6 611.8,278.9 612.4,277.9 613.0,275.4 613.6,276.7 614.2,275.6 615.0,277.5 615.4,275.0 616.0,275.5 616.6,276.6 617.2,276.1 617.8,275.3 618.4,275.9 619.0,275.8 619.6,275.3 620.2,275.5 620.8,275.1 621.4,275.1 622.0,276.4 622.6,275.7 623.2,275.9 624.0,275.3 624.4,276.5 625.0,274.9 625.6,276.6 626.2,274.2 626.8,274.4 627.4,274.4 628.0,275.7 628.6,276.7 629.2,276.7 629.5,277.0 629.8,276.9 630.4,276.4 631.0,276.5 631.6,274.1 632.2,273.0 632.5,274.0 632.8,275.8 633.4,274.4 634.0,273.9 634.6,272.6 635.0,272.5 635.8,274.0 636.4,274.7 637.0,274.7 637.6,276.1 638.0,277.6 638.8,280.2 639.4,280.2 640.0,282.5 640.8,283.7 641.2,283.5 641.8,283.1 642.4,282.7 643.0,282.8 643.6,284.9 644.2,284.0 644.5,284.7 644.8,286.0 645.4,284.1 646.0,285.3 646.6,285.4 647.2,286.4 647.8,287.4 648.4,287.5 649.0,287.2 649.6,287.5 650.2,287.8 650.8,286.3 651.4,285.8 652.0,285.0 652.6,286.1 653.2,284.4 653.8,284.7 654.4,286.6 655.0,286.6 655.6,285.6 656.0,284.4 656.8,283.2 657.4,284.3 658.0,284.1 658.6,283.5 659.0,284.2 659.8,283.6 660.4,282.3 661.0,281.6 661.6,281.7 662.2,282.2 662.8,281.8 663.4,282.8 664.0,283.2 664.6,282.5 665.2,280.4 666.0,282.0 666.4,281.0 667.0,280.9 667.6,281.3 668.2,280.8 668.8,280.8 669.4,281.3 670.0,281.4 670.6,282.1 671.0,282.0 671.8,281.9 672.4,281.6 673.0,282.1 673.6,283.0 674.2,283.2 675.0,283.4 675.4,283.2 676.0,284.1 676.6,286.0 677.2,286.0 677.8,285.7 678.6,285.7 679.0,288.0 679.6,286.9 680.2,286.5 680.8,287.2 681.5,287.9 682.0,288.7 682.6,289.6 683.2,290.6 683.8,290.6 684.3,291.2 685.0,291.1 685.6,291.7 686.2,292.9 686.8,292.7 687.4,290.2 688.0,290.1 688.6,289.4 689.2,290.6 690.0,289.7 690.4,290.1 691.0,289.1 691.6,289.6 692.2,290.4 692.8,289.0 693.4,286.5 694.0,286.1 694.6,288.0 695.2,287.7 695.6,287.5 696.4,287.1 697.0,288.3 697.6,288.7 698.2,288.5 698.8,287.9 699.4,288.1 700.0,288.5 700.6,289.4 701.2,290.9 701.8,288.5 702.4,288.2 703.0,288.8 703.6,289.6 704.2,289.0 705.0,290.2 705.4,289.7 706.0,289.9 706.6,290.0 707.2,290.5 707.8,292.0 708.4,292.8 709.0,293.1 709.6,293.1 710.2,291.9 711.0,291.8 711.4,292.6 712.0,292.7 712.6,293.6 713.2,293.6 713.8,293.3 714.4,293.7 715.0,291.8 715.6,292.5 716.4,293.1 716.8,293.1 717.4,292.3 718.0,292.3 718.6,291.6 719.2,292.2 719.8,292.7 720.4,291.9 721.0,291.6 721.6,291.5 722.2,292.0 722.8,290.9 723.4,290.6 724.0,289.7 724.6,288.6 725.2,288.9 726.0,289.3 726.4,288.2 727.0,290.1 727.6,288.5 728.2,289.3 728.8,289.2 729.4,286.8 730.0,286.9 730.6,285.9 731.2,286.0 731.5,287.2 731.8,289.0 732.4,288.9 733.0,286.3 733.6,285.9 734.2,287.7 734.8,287.2 735.4,288.1 736.0,286.6 736.6,285.4 737.2,284.6 737.8,284.0 738.4,285.8 739.0,284.4 739.6,285.5 740.2,285.8 740.8,286.3 741.4,285.4 742.0,285.1 742.6,286.8 743.2,284.7 743.8,285.5 744.4,286.4 745.0,285.5 745.6,286.5 746.2,282.8 746.8,282.9 747.4,282.3 748.0,282.4 748.6,282.7 749.2,283.5 749.8,282.6 750.4,284.0 751.0,282.2 751.6,283.6 752.3,283.4 752.8,281.8 753.4,281.7 754.0,281.7 754.6,281.8 755.2,282.3 755.8,284.1 756.4,285.1 757.0,283.8 757.6,282.4 758.2,282.8 758.8,282.7 759.4,283.1 760.0,283.3 760.6,286.6 761.2,284.2 761.8,285.2 762.4,287.2 763.0,286.3 763.6,285.2 764.2,287.4 764.8,284.7 765.5,285.2 766.0,284.5 766.6,285.4 767.2,286.6 767.8,286.7 768.4,287.8 769.0,287.5 769.3,287.5 769.6,286.2 770.2,283.8 770.8,281.0 771.4,278.4 772.2,275.3 772.6,276.0 773.2,276.1 773.8,274.8 774.4,273.6 775.0,273.4 775.5,273.8 776.2,273.3 776.8,273.6 777.4,274.8 778.0,274.4 778.8,275.2 779.2,274.6 779.8,273.5 780.4,272.5 781.0,273.0 781.6,272.7 782.2,271.0 783.0,270.9 783.4,270.6 784.0,270.4 784.6,269.3 785.2,269.8 785.8,269.1 786.4,267.2 787.0,266.7 787.3,266.6 787.6,266.6 788.2,266.2 788.8,265.9 789.4,266.4 790.0,268.4 790.6,269.9 791.2,269.6 791.8,270.4 792.5,269.7 793.0,270.8 793.6,270.3 794.2,268.7 794.8,269.7 795.4,271.1 796.0,269.1 796.6,269.5 797.2,270.2 797.7,270.9 798.4,270.1 799.0,270.6 799.6,271.8 800.0,272.1 800.8,272.3 801.4,272.7 802.0,272.2 802.6,271.8 803.2,270.6 803.5,270.0 803.8,269.2 804.4,269.3 805.0,270.4 805.6,270.0 806.2,270.1 806.8,268.7 807.6,268.8 808.0,266.1 808.6,265.9 809.2,265.9 809.8,265.5 810.4,266.1 811.0,266.6 811.5,266.4 812.2,266.2 812.8,265.1 813.4,264.9 814.0,265.0 814.6,264.4 815.0,266.0 815.8,264.8 816.4,266.2 817.0,265.5 817.6,265.6 818.2,264.1 819.0,264.0 819.4,263.3 820.0,263.6 820.6,264.8 821.2,263.5 821.8,263.0 822.4,263.0 822.7,263.1 823.0,262.5 823.6,260.8 824.2,259.1 824.5,258.8 824.8,258.4 825.4,256.7 826.0,255.4 826.5,255.2 827.2,254.3 827.8,253.1 828.4,253.2 829.0,253.0 829.6,252.5 830.0,251.7 830.8,250.6 831.4,249.9 832.0,249.1 832.6,248.1 833.0,247.4 833.8,247.8 834.4,248.7 835.0,249.9 835.6,250.0 836.0,250.5 836.8,250.2 837.4,250.8 838.0,251.5 838.8,253.3 839.2,255.0 839.8,257.8 840.5,259.0 841.0,260.5 841.6,262.1 842.2,263.0 842.5,263.5 842.8,263.5 843.4,263.0 844.0,262.3 844.6,263.7 845.2,263.3 845.8,263.2 846.4,263.3 847.0,261.9 847.6,260.6 848.2,261.2 848.8,260.6 849.4,260.9 850.0,260.1 850.6,259.0 851.0,258.8 851.8,259.1 852.4,259.2 853.0,259.7 853.6,260.6 854.2,261.1 854.8,259.9 855.4,261.4 856.0,260.3 856.5,262.9 857.2,262.6 857.8,262.9 858.4,264.6 859.0,264.3 859.6,263.0 860.2,262.5 860.8,263.6 861.4,264.9 862.0,265.5 862.4,265.6 863.2,264.6 863.8,264.4 864.4,264.8 865.0,262.7 865.6,264.0 866.2,263.1 866.8,262.4 867.4,261.2 868.0,260.0 868.6,260.8 869.2,261.7 869.8,262.7 870.4,259.8 871.0,261.0 871.6,260.9 872.0,260.9 872.8,261.5 873.4,262.3 874.0,263.3 874.6,262.7 875.2,264.5 875.6,262.7 876.4,262.0 877.0,261.9 877.6,262.7 878.2,262.8 878.8,264.0 879.5,263.9 880.0,265.5 880.6,266.1 881.2,265.2 881.8,263.7 882.4,264.3 883.2,265.3 883.6,265.0 884.2,265.1 884.8,263.1 885.4,265.2 886.0,263.7 886.6,262.5 887.0,262.6 887.8,264.5 888.4,265.5 889.0,265.2 889.6,267.4 890.2,267.6 890.7,268.3 891.4,267.7 892.0,267.3 892.6,265.9 893.0,264.9 893.8,264.6 894.4,262.6 895.0,262.5 895.5,262.5 896.2,260.6 897.0,258.0 897.4,256.8 898.0,255.0 898.3,254.0 898.6,254.2 899.2,254.8 899.8,254.3 900.4,254.3 901.0,256.6 901.6,257.0 902.0,257.0 902.8,256.3 903.4,255.9 904.0,255.9 904.6,254.8 905.2,251.9 905.9,251.2 906.4,251.8 907.0,252.9 907.6,252.7 908.2,251.2 908.8,252.0 909.4,251.6 910.0,252.1 910.6,252.0 911.2,253.1 911.5,253.2 911.8,253.1 912.4,252.1 913.0,250.4 913.6,249.7 914.2,250.1 914.5,249.8 914.8,249.9 915.4,251.6 916.0,250.3 916.6,249.7 917.2,249.8 917.8,248.9 918.4,246.7 919.0,245.0 919.6,243.9 920.2,242.5 921.0,241.3 921.4,241.2 922.0,241.5 922.6,239.0 923.2,240.0 924.0,239.3 924.4,238.9 925.0,238.6 925.6,238.2 926.2,237.0 926.7,236.2 927.4,237.6 928.0,237.9 928.6,237.8 929.2,238.7 929.5,239.7 929.8,240.1 930.4,242.1 931.0,243.1 931.6,244.4 932.3,244.8 932.8,244.2 933.4,243.0 934.0,241.7 934.6,241.3 935.0,242.4 935.8,240.1 936.4,240.5 937.0,240.0 937.6,239.6 938.0,239.0 938.8,239.7 939.4,239.4 940.0,240.3 940.6,238.1 941.0,239.5 941.8,240.6 942.4,239.0 943.0,240.2 943.7,240.2 944.2,239.2 944.8,237.8 945.4,236.7 946.0,234.9 946.3,234.0 946.6,234.2 947.2,235.0 947.8,234.5 948.4,235.1 949.0,235.4 949.3,234.3 949.6,233.1 950.2,234.8 950.8,233.8 951.4,234.5 952.0,234.2 952.6,234.6 953.2,233.0 953.8,233.1 954.4,231.5 955.0,231.3 955.6,232.2 956.2,232.1 956.8,232.5 957.4,231.0 958.0,231.2 958.6,231.7 959.0,230.4 959.8,229.5 960.4,230.7 961.0,232.0 961.6,232.1 962.2,230.6 962.6,231.2 963.4,231.1 964.0,230.7 964.6,231.5 965.0,233.4 965.8,232.6 966.4,233.2 967.0,232.8 967.3,231.1 967.6,229.8 968.2,229.2 968.8,228.2 969.5,227.9 970.0,226.4 970.6,225.3 971.2,225.9 972.0,224.8 972.4,224.9 973.0,225.4 973.6,227.8 974.2,227.3 974.5,226.3 974.8,227.4 975.4,229.1 976.0,229.4 976.6,227.8 977.2,227.1 977.7,227.7 978.4,227.2 979.0,227.3 979.6,226.5 980.2,227.2 980.8,225.9 981.5,224.8 982.0,225.4 982.6,224.9 983.2,225.6 983.8,226.2 984.5,225.9 985.0,225.3 985.6,225.9 986.2,227.0 987.0,228.5 987.4,228.3 988.0,228.2 988.6,226.1 989.2,225.0 989.8,225.7 990.5,225.5 991.0,225.0 991.6,223.6 992.2,222.6 992.8,224.5 993.4,223.4 994.0,223.1 994.3,222.9 994.6,223.5 995.2,224.0 995.8,224.5 996.4,225.3 997.0,226.0 997.6,227.9 998.2,226.3 998.8,228.0 999.4,228.4 1000.0,229.2 1000.6,228.3 1001.2,228.0 1001.8,226.2 1002.4,225.7 1003.0,226.3 1003.6,225.3 1004.2,224.6 1005.0,224.8 1005.4,224.5 1006.0,223.7 1006.6,223.4 1007.2,222.0 1007.8,222.8 1008.4,221.5 1009.0,221.3 1009.3,221.3 1009.6,221.5 1010.2,221.7 1010.8,222.2 1011.5,224.3 1012.0,224.4 1012.6,225.1 1013.2,226.1 1014.0,227.7 1014.4,227.2 1015.0,226.7 1015.6,227.7 1016.2,226.6 1017.0,225.4 1017.4,224.0 1018.0,223.3 1018.6,222.4 1019.2,221.8 1019.8,221.5 1020.3,222.3 1021.0,222.7 1021.6,222.2 1022.2,222.8 1022.8,221.6 1023.4,224.1 1024.0,225.0 1024.3,223.9 1024.6,223.9 1025.2,222.6 1025.8,221.9 1026.4,220.0 1027.0,218.3 1027.6,217.9 1028.2,216.0 1028.8,215.9 1029.4,214.8 1030.2,214.2 1030.6,214.7 1031.2,216.2 1031.8,216.6 1032.4,216.4 1033.0,217.2 1033.6,217.1 1034.0,217.0 1034.8,217.5 1035.4,217.5 1036.0,218.6 1036.6,219.2 1037.2,220.2 1037.6,220.5 1038.4,221.3 1039.0,223.1 1039.6,225.5 1040.0,226.1 1040.8,227.7 1041.4,227.2 1042.0,228.9 1042.4,229.4 1043.2,229.4 1043.8,231.2 1044.4,230.2 1045.0,232.3 1045.5,231.2 1046.2,230.4 1046.8,230.6 1047.4,229.6 1048.0,229.8 1048.7,230.8 1049.2,229.9 1049.8,230.4 1050.4,231.0 1051.0,232.4 1051.8,234.0 1052.2,233.7 1052.8,233.2 1053.4,233.1 1054.0,231.9 1054.6,232.3 1055.0,232.3 1055.8,231.4 1056.4,230.6 1057.0,230.6 1057.6,231.9 1058.0,233.0 1058.8,232.1 1059.4,231.6 1060.0,230.6 1060.6,229.2 1061.2,228.2 1061.8,229.9 1062.4,229.2 1062.8,229.3 1063.6,230.2 1064.2,230.1 1064.8,230.0 1065.4,230.5 1066.0,230.3 1066.6,230.7 1067.2,230.4 1067.8,232.1 1068.4,232.4 1069.0,231.1 1069.6,229.9 1070.2,230.1 1070.8,230.3 1071.4,230.4 1072.0,231.8 1072.6,231.3 1073.2,231.4 1073.9,232.1 1074.4,232.2 1075.0,234.3 1075.6,236.7 1076.2,238.9 1077.0,240.3 1077.4,239.9 1078.0,239.6 1078.6,238.9 1079.2,237.5 1080.0,238.6 1080.4,237.9 1081.0,237.9 1081.6,236.3 1082.0,237.2" fill="none" stroke="#FFC000" stroke-width="8.5" stroke-linecap="round" stroke-linejoin="round"/>
<g stroke-width="8.2" stroke-linecap="round">
<line x1="216.1" y1="36.6" x2="288.1" y2="36.6" stroke="#ED7D31"/>
<line x1="216.1" y1="90.8" x2="288.1" y2="90.8" stroke="#A5A5A5"/>
<line x1="216.1" y1="145.0" x2="288.1" y2="145.0" stroke="#FFC000"/>
</g>
<g class="lbl">
<text><tspan x="294.30" y="46.20" font-size="31.11" textLength="110.14" lengthAdjust="spacingAndGlyphs">Inflation</tspan> <tspan x="411.44" y="46.20" font-size="31.11" textLength="46.68" lengthAdjust="spacingAndGlyphs">Ret</tspan><tspan x="458.55" y="43.21" font-size="15.52" textLength="11.42" lengthAdjust="spacingAndGlyphs" stroke="#595959" stroke-width="0.40">=</tspan><tspan x="470.70" y="50.00" font-size="30.96" textLength="15.25" lengthAdjust="spacingAndGlyphs">5</tspan><tspan x="487.75" y="45.90" font-size="20.57" textLength="3.50" lengthAdjust="spacingAndGlyphs" stroke="none">.</tspan><tspan x="492.52" y="50.30" font-size="31.40" textLength="16.44" lengthAdjust="spacingAndGlyphs">4</tspan><tspan x="508.00" y="46.12" font-size="30.80" textLength="21.31" lengthAdjust="spacingAndGlyphs" stroke-width="0.30">%</tspan> <tspan x="537.16" y="46.20" font-size="31.11" textLength="45.34" lengthAdjust="spacingAndGlyphs">Vol</tspan><tspan x="583.55" y="43.21" font-size="15.52" textLength="11.42" lengthAdjust="spacingAndGlyphs" stroke="#595959" stroke-width="0.40">=</tspan><tspan x="595.32" y="50.00" font-size="30.96" textLength="16.42" lengthAdjust="spacingAndGlyphs">5</tspan><tspan x="611.40" y="46.12" font-size="30.80" textLength="21.31" lengthAdjust="spacingAndGlyphs" stroke-width="0.30">%</tspan> <tspan x="639.44" y="46.20" font-size="31.11" textLength="27.75" lengthAdjust="spacingAndGlyphs">IR</tspan><tspan x="667.15" y="43.21" font-size="15.52" textLength="11.42" lengthAdjust="spacingAndGlyphs" stroke="#595959" stroke-width="0.40">=</tspan><tspan x="678.46" y="46.35" font-size="22.60" textLength="14.19" lengthAdjust="spacingAndGlyphs" stroke-width="0.40">1</tspan><tspan x="692.55" y="45.90" font-size="20.57" textLength="3.50" lengthAdjust="spacingAndGlyphs" stroke="none">.</tspan><tspan x="696.15" y="46.14" font-size="21.96" textLength="20.71" lengthAdjust="spacingAndGlyphs" stroke-width="0.40">0</tspan><tspan x="715.92" y="50.30" font-size="31.40" textLength="17.13" lengthAdjust="spacingAndGlyphs">7</tspan> <tspan x="739.80" y="46.20" font-size="31.11" textLength="32.10" lengthAdjust="spacingAndGlyphs">Dr</tspan><tspan x="771.35" y="43.21" font-size="15.52" textLength="11.42" lengthAdjust="spacingAndGlyphs" stroke="#595959" stroke-width="0.40">=</tspan><tspan x="782.86" y="44.51" font-size="24.32" textLength="12.28" lengthAdjust="spacingAndGlyphs" stroke="none">-</tspan><tspan x="795.24" y="46.20" font-size="31.21" textLength="18.73" lengthAdjust="spacingAndGlyphs">8</tspan><tspan x="813.75" y="45.90" font-size="20.57" textLength="3.50" lengthAdjust="spacingAndGlyphs" stroke="none">.</tspan><tspan x="817.02" y="46.35" font-size="22.27" textLength="17.46" lengthAdjust="spacingAndGlyphs" stroke-width="0.40">2</tspan><tspan x="834.40" y="46.12" font-size="30.80" textLength="21.31" lengthAdjust="spacingAndGlyphs" stroke-width="0.30">%</tspan></text>
<text><tspan x="295.69" y="100.30" font-size="31.11" textLength="82.34" lengthAdjust="spacingAndGlyphs">Trend</tspan> <tspan x="385.07" y="100.30" font-size="31.11" textLength="46.15" lengthAdjust="spacingAndGlyphs">Ret</tspan><tspan x="431.55" y="97.31" font-size="15.52" textLength="11.42" lengthAdjust="spacingAndGlyphs" stroke="#595959" stroke-width="0.40">=</tspan><tspan x="442.73" y="100.45" font-size="22.27" textLength="17.34" lengthAdjust="spacingAndGlyphs" stroke-width="0.40">2</tspan><tspan x="460.05" y="100.00" font-size="20.57" textLength="3.50" lengthAdjust="spacingAndGlyphs" stroke="none">.</tspan><tspan x="462.93" y="100.30" font-size="31.21" textLength="18.85" lengthAdjust="spacingAndGlyphs">8</tspan><tspan x="481.90" y="100.22" font-size="30.80" textLength="21.31" lengthAdjust="spacingAndGlyphs" stroke-width="0.30">%</tspan> <tspan x="510.95" y="100.30" font-size="31.11" textLength="47.86" lengthAdjust="spacingAndGlyphs">Vol</tspan><tspan x="557.65" y="97.31" font-size="15.52" textLength="11.42" lengthAdjust="spacingAndGlyphs" stroke="#595959" stroke-width="0.40">=</tspan><tspan x="569.42" y="104.10" font-size="30.51" textLength="15.72" lengthAdjust="spacingAndGlyphs">3</tspan><tspan x="585.25" y="100.00" font-size="20.57" textLength="3.50" lengthAdjust="spacingAndGlyphs" stroke="none">.</tspan><tspan x="589.34" y="104.10" font-size="30.51" textLength="17.01" lengthAdjust="spacingAndGlyphs">3</tspan><tspan x="606.60" y="100.22" font-size="30.80" textLength="21.31" lengthAdjust="spacingAndGlyphs" stroke-width="0.30">%</tspan> <tspan x="634.15" y="100.30" font-size="31.11" textLength="27.63" lengthAdjust="spacingAndGlyphs">IR</tspan><tspan x="661.55" y="97.31" font-size="15.52" textLength="11.42" lengthAdjust="spacingAndGlyphs" stroke="#595959" stroke-width="0.40">=</tspan><tspan x="674.40" y="100.24" font-size="21.96" textLength="21.41" lengthAdjust="spacingAndGlyphs" stroke-width="0.40">0</tspan><tspan x="695.95" y="100.00" font-size="20.57" textLength="3.50" lengthAdjust="spacingAndGlyphs" stroke="none">.</tspan><tspan x="698.84" y="100.30" font-size="31.21" textLength="18.73" lengthAdjust="spacingAndGlyphs">8</tspan><tspan x="716.38" y="104.10" font-size="30.51" textLength="16.30" lengthAdjust="spacingAndGlyphs">3</tspan> <tspan x="738.93" y="100.30" font-size="31.11" textLength="31.77" lengthAdjust="spacingAndGlyphs">Dr</tspan><tspan x="770.75" y="97.31" font-size="15.52" textLength="11.42" lengthAdjust="spacingAndGlyphs" stroke="#595959" stroke-width="0.40">=</tspan><tspan x="782.95" y="98.61" font-size="24.32" textLength="11.59" lengthAdjust="spacingAndGlyphs" stroke="none">-</tspan><tspan x="795.34" y="104.40" font-size="31.40" textLength="18.43" lengthAdjust="spacingAndGlyphs">4</tspan><tspan x="813.25" y="100.00" font-size="20.57" textLength="3.50" lengthAdjust="spacingAndGlyphs" stroke="none">.</tspan><tspan x="816.74" y="104.40" font-size="31.40" textLength="18.43" lengthAdjust="spacingAndGlyphs">4</tspan><tspan x="833.80" y="100.22" font-size="30.80" textLength="21.31" lengthAdjust="spacingAndGlyphs" stroke-width="0.30">%</tspan></text>
<text><tspan x="295.22" y="154.40" font-size="31.11" textLength="115.40" lengthAdjust="spacingAndGlyphs">Portfolio</tspan> <tspan x="418.47" y="154.40" font-size="31.11" textLength="46.04" lengthAdjust="spacingAndGlyphs">Ret</tspan><tspan x="464.95" y="151.41" font-size="15.52" textLength="11.42" lengthAdjust="spacingAndGlyphs" stroke="#595959" stroke-width="0.40">=</tspan><tspan x="477.19" y="158.20" font-size="30.96" textLength="15.37" lengthAdjust="spacingAndGlyphs">5</tspan><tspan x="492.05" y="154.10" font-size="20.57" textLength="3.50" lengthAdjust="spacingAndGlyphs" stroke="none">.</tspan><tspan x="495.33" y="158.50" font-size="31.40" textLength="18.76" lengthAdjust="spacingAndGlyphs">4</tspan><tspan x="514.40" y="154.32" font-size="30.80" textLength="21.31" lengthAdjust="spacingAndGlyphs" stroke-width="0.30">%</tspan> <tspan x="544.36" y="154.40" font-size="31.11" textLength="45.65" lengthAdjust="spacingAndGlyphs">Vol</tspan><tspan x="589.05" y="151.41" font-size="15.52" textLength="11.42" lengthAdjust="spacingAndGlyphs" stroke="#595959" stroke-width="0.40">=</tspan><tspan x="601.74" y="158.50" font-size="31.40" textLength="18.43" lengthAdjust="spacingAndGlyphs">4</tspan><tspan x="619.85" y="154.10" font-size="20.57" textLength="3.50" lengthAdjust="spacingAndGlyphs" stroke="none">.</tspan><tspan x="623.53" y="158.20" font-size="30.96" textLength="16.30" lengthAdjust="spacingAndGlyphs">5</tspan><tspan x="639.40" y="154.32" font-size="30.80" textLength="21.31" lengthAdjust="spacingAndGlyphs" stroke-width="0.30">%</tspan> <tspan x="668.41" y="154.40" font-size="31.11" textLength="26.94" lengthAdjust="spacingAndGlyphs">IR</tspan><tspan x="695.15" y="151.41" font-size="15.52" textLength="11.42" lengthAdjust="spacingAndGlyphs" stroke="#595959" stroke-width="0.40">=</tspan><tspan x="706.16" y="154.55" font-size="22.60" textLength="14.19" lengthAdjust="spacingAndGlyphs" stroke-width="0.40">1</tspan><tspan x="719.85" y="154.10" font-size="20.57" textLength="3.50" lengthAdjust="spacingAndGlyphs" stroke="none">.</tspan><tspan x="722.40" y="154.55" font-size="22.27" textLength="17.70" lengthAdjust="spacingAndGlyphs" stroke-width="0.40">2</tspan><tspan x="738.50" y="154.55" font-size="22.27" textLength="17.70" lengthAdjust="spacingAndGlyphs" stroke-width="0.40">2</tspan> <tspan x="762.79" y="154.40" font-size="31.11" textLength="32.32" lengthAdjust="spacingAndGlyphs">Dr</tspan><tspan x="795.15" y="151.41" font-size="15.52" textLength="11.42" lengthAdjust="spacingAndGlyphs" stroke="#595959" stroke-width="0.40">=</tspan><tspan x="807.33" y="152.71" font-size="24.32" textLength="11.73" lengthAdjust="spacingAndGlyphs" stroke="none">-</tspan><tspan x="819.43" y="158.20" font-size="30.96" textLength="16.19" lengthAdjust="spacingAndGlyphs">5</tspan><tspan x="835.05" y="154.10" font-size="20.57" textLength="3.50" lengthAdjust="spacingAndGlyphs" stroke="none">.</tspan><tspan x="837.42" y="158.20" font-size="30.51" textLength="21.07" lengthAdjust="spacingAndGlyphs">9</tspan><tspan x="858.80" y="154.32" font-size="30.80" textLength="21.31" lengthAdjust="spacingAndGlyphs" stroke-width="0.30">%</tspan></text>
<text><tspan x="221.50" y="624.05" font-size="24.63" textLength="14.95" lengthAdjust="spacingAndGlyphs" stroke-width="0.30">2</tspan><tspan x="236.82" y="623.81" font-size="24.29" textLength="17.45" lengthAdjust="spacingAndGlyphs" stroke-width="0.30">0</tspan><tspan x="254.49" y="624.05" font-size="24.63" textLength="15.02" lengthAdjust="spacingAndGlyphs" stroke-width="0.30">2</tspan><tspan x="270.83" y="623.81" font-size="24.29" textLength="17.34" lengthAdjust="spacingAndGlyphs" stroke-width="0.30">0</tspan></text>
<text><tspan x="535.89" y="624.05" font-size="24.63" textLength="15.08" lengthAdjust="spacingAndGlyphs" stroke-width="0.30">2</tspan><tspan x="551.03" y="623.81" font-size="24.29" textLength="17.34" lengthAdjust="spacingAndGlyphs" stroke-width="0.30">0</tspan><tspan x="568.80" y="624.05" font-size="24.63" textLength="14.89" lengthAdjust="spacingAndGlyphs" stroke-width="0.30">2</tspan><tspan x="584.89" y="624.05" font-size="24.63" textLength="15.08" lengthAdjust="spacingAndGlyphs" stroke-width="0.30">2</tspan></text>
<text><tspan x="847.78" y="624.05" font-size="24.63" textLength="15.14" lengthAdjust="spacingAndGlyphs" stroke-width="0.30">2</tspan><tspan x="863.12" y="623.81" font-size="24.29" textLength="17.57" lengthAdjust="spacingAndGlyphs" stroke-width="0.30">0</tspan><tspan x="880.66" y="624.05" font-size="24.63" textLength="15.32" lengthAdjust="spacingAndGlyphs" stroke-width="0.30">2</tspan><tspan x="896.47" y="628.25" font-size="31.25" textLength="16.44" lengthAdjust="spacingAndGlyphs" stroke-width="0.50">4</tspan></text>
</g>
</svg>
</body></html>
